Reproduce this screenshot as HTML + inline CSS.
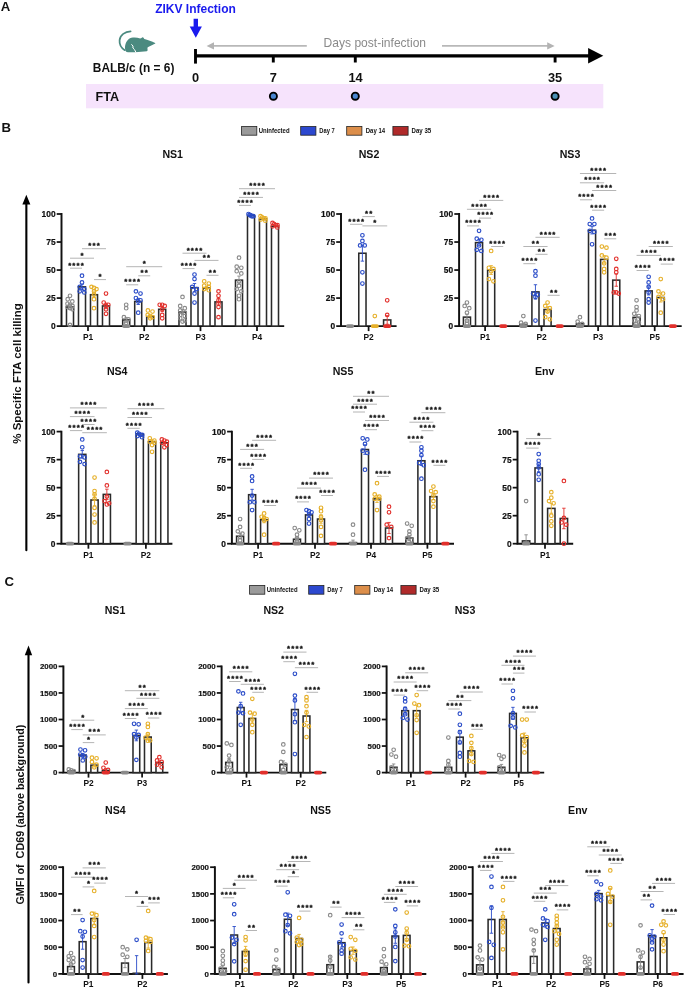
<!DOCTYPE html>
<html><head><meta charset="utf-8"><title>Figure</title>
<style>
html,body{margin:0;padding:0;background:#fff;}
body{width:685px;height:988px;overflow:hidden;font-family:"Liberation Sans", sans-serif;}
</style></head><body>
<svg width="685" height="988" viewBox="0 0 685 988" style="display:block;will-change:transform"><g font-family='"Liberation Sans", sans-serif'><text x="0.70" y="10.60" font-size="13.2" font-weight="bold" text-anchor="start" fill="#111" >A</text><rect x="86" y="84" width="517.3" height="24.3" fill="#f6e3fc"/><text x="95.60" y="100.80" font-size="12.6" font-weight="bold" text-anchor="start" fill="#111" >FTA</text><text x="195.50" y="13.40" font-size="12.0" font-weight="bold" text-anchor="middle" fill="#1a1aee" >ZIKV Infection</text><path d="M193.6,18.8H198.0V26.4H201.9L195.8,37.8L189.7,26.4H193.6Z" fill="#1a1aee"/><path d="M130.6,31.4C125,31.6 120.2,35 119.6,40.2C119.2,44.5 121.5,48.2 124.8,50.2" stroke="#4b8a80" stroke-width="1.75" fill="none" stroke-linecap="round"/><path d="M125.8,51.3C124.4,48.5 124.6,42.5 128.8,39.0C131.5,37.2 136.5,37.2 140.2,38.6L141.5,38.1C142.0,37.2 143.2,37.0 143.7,38.0L144.3,39.0C147.5,40.0 152.0,41.5 155.1,42.9L155.4,43.6C153.5,44.7 150.3,46.0 147.7,47.3C147.1,48.5 147.8,49.8 147.6,50.4L146.8,51.3C143.3,51.7 139,52 135.4,52.3C132,52.3 128,52.2 126.6,52.0Z" fill="#4b8a80"/><path d="M131.4,44.3L133.0,46.1L132.9,48.0L134.5,49.6L136.2,52.8" stroke="#fff" stroke-width="1.0" fill="none"/><text x="92.80" y="72.20" font-size="11.9" font-weight="bold" text-anchor="start" fill="#111" >BALB/c (n = 6)</text><path d="M195.4,55.8H590" stroke="#000" stroke-width="3.2"/><path d="M588.1,48.0L603.3,55.7L588.1,63.5Z" fill="#000"/><path d="M195.5,49.0V63.6" stroke="#000" stroke-width="2.9"/><path d="M273.3,55.8V62.5" stroke="#000" stroke-width="2.9"/><path d="M355.3,55.8V62.5" stroke="#000" stroke-width="2.9"/><path d="M555.1,55.8V62.5" stroke="#000" stroke-width="2.9"/><text x="195.50" y="82.30" font-size="12.8" font-weight="bold" text-anchor="middle" fill="#111" >0</text><text x="273.30" y="82.30" font-size="12.8" font-weight="bold" text-anchor="middle" fill="#111" >7</text><text x="355.50" y="82.30" font-size="12.8" font-weight="bold" text-anchor="middle" fill="#111" >14</text><text x="555.10" y="82.30" font-size="12.8" font-weight="bold" text-anchor="middle" fill="#111" >35</text><path d="M306.8,45.9H212" stroke="#b8b8b8" stroke-width="1.7"/><path d="M206.6,45.9L214,42.2L214,49.6Z" fill="#b3b3b3"/><path d="M442,45.9H548" stroke="#b8b8b8" stroke-width="1.7"/><path d="M554.6,45.9L547.2,42.2L547.2,49.6Z" fill="#b3b3b3"/><text x="323.60" y="47.00" font-size="12.05" font-weight="normal" text-anchor="start" fill="#8a8a8a" >Days post-infection</text><circle cx="273.4" cy="96.2" r="3.55" fill="#4a86d0" stroke="#000" stroke-width="1.9"/><circle cx="355.3" cy="96.2" r="3.55" fill="#4a86d0" stroke="#000" stroke-width="1.9"/><circle cx="555.1" cy="96.2" r="3.55" fill="#4a90b4" stroke="#000" stroke-width="1.9"/><text x="1.40" y="132.00" font-size="13.2" font-weight="bold" text-anchor="start" fill="#111" >B</text><text x="4.50" y="585.80" font-size="13.2" font-weight="bold" text-anchor="start" fill="#111" >C</text><rect x="241.60" y="126.50" width="15.2" height="8.7" fill="#9a9a9a" stroke="#222" stroke-width="0.8"/><text x="258.70" y="132.90" font-size="7.2" font-weight="bold" fill="#111" textLength="30.9" lengthAdjust="spacingAndGlyphs">Uninfected</text><rect x="300.70" y="126.50" width="15.2" height="8.7" fill="#2c48cf" stroke="#222" stroke-width="0.8"/><text x="319.30" y="132.90" font-size="7.2" font-weight="bold" fill="#111" textLength="15.4" lengthAdjust="spacingAndGlyphs">Day 7</text><rect x="346.70" y="126.50" width="15.2" height="8.7" fill="#dc8e4a" stroke="#222" stroke-width="0.8"/><text x="365.70" y="132.90" font-size="7.2" font-weight="bold" fill="#111" textLength="19.4" lengthAdjust="spacingAndGlyphs">Day 14</text><rect x="392.90" y="126.50" width="15.2" height="8.7" fill="#b02a2a" stroke="#222" stroke-width="0.8"/><text x="411.50" y="132.90" font-size="7.2" font-weight="bold" fill="#111" textLength="19.7" lengthAdjust="spacingAndGlyphs">Day 35</text><rect x="249.60" y="585.50" width="15.2" height="8.7" fill="#9a9a9a" stroke="#222" stroke-width="0.8"/><text x="266.70" y="591.90" font-size="7.2" font-weight="bold" fill="#111" textLength="30.9" lengthAdjust="spacingAndGlyphs">Uninfected</text><rect x="308.70" y="585.50" width="15.2" height="8.7" fill="#2c48cf" stroke="#222" stroke-width="0.8"/><text x="327.30" y="591.90" font-size="7.2" font-weight="bold" fill="#111" textLength="15.4" lengthAdjust="spacingAndGlyphs">Day 7</text><rect x="354.70" y="585.50" width="15.2" height="8.7" fill="#dc8e4a" stroke="#222" stroke-width="0.8"/><text x="373.70" y="591.90" font-size="7.2" font-weight="bold" fill="#111" textLength="19.4" lengthAdjust="spacingAndGlyphs">Day 14</text><rect x="400.90" y="585.50" width="15.2" height="8.7" fill="#b02a2a" stroke="#222" stroke-width="0.8"/><text x="419.50" y="591.90" font-size="7.2" font-weight="bold" fill="#111" textLength="19.7" lengthAdjust="spacingAndGlyphs">Day 35</text><path d="M26.35,550.2V202.8" stroke="#000" stroke-width="2.1" stroke-linecap="round"/><path d="M22.35,204.60000000000002L26.35,194.8L30.35,204.60000000000002Z" fill="#000"/><text x="21.2" y="373.5" font-size="11.5" font-weight="bold" text-anchor="middle" fill="#111" transform="rotate(-90 21.2 373.5)">% Specific FTA cell killing</text><path d="M28.5,982.4V653.4" stroke="#000" stroke-width="2.1" stroke-linecap="round"/><path d="M24.8,655.1999999999999L28.5,645.4L32.2,655.1999999999999Z" fill="#000"/><text x="24.0" y="814.6" font-size="10.8" font-weight="bold" text-anchor="middle" fill="#111" transform="rotate(-90 24.0 814.6)">GMFI of&#160;&#160;CD69 (above background)</text><path d="M61.50,213.10V326.10H284.20" stroke="#111" stroke-width="1.95" fill="none"/><path d="M56.70,326.10H61.50" stroke="#111" stroke-width="1.75"/><text x="55.60" y="329.03" font-size="8.4" font-weight="bold" text-anchor="end" fill="#111" stroke="#111" stroke-width="0.2">0</text><path d="M56.70,298.08H61.50" stroke="#111" stroke-width="1.75"/><text x="55.60" y="301.01" font-size="8.4" font-weight="bold" text-anchor="end" fill="#111" stroke="#111" stroke-width="0.2">25</text><path d="M56.70,270.05H61.50" stroke="#111" stroke-width="1.75"/><text x="55.60" y="272.98" font-size="8.4" font-weight="bold" text-anchor="end" fill="#111" stroke="#111" stroke-width="0.2">50</text><path d="M56.70,242.03H61.50" stroke="#111" stroke-width="1.75"/><text x="55.60" y="244.96" font-size="8.4" font-weight="bold" text-anchor="end" fill="#111" stroke="#111" stroke-width="0.2">75</text><path d="M56.70,214.00H61.50" stroke="#111" stroke-width="1.75"/><text x="55.60" y="216.93" font-size="8.4" font-weight="bold" text-anchor="end" fill="#111" stroke="#111" stroke-width="0.2">100</text><path d="M88.00,326.10V331.10" stroke="#111" stroke-width="1.75"/><text x="88.00" y="340.30" font-size="8.4" font-weight="bold" text-anchor="middle" fill="#111" >P1</text><path d="M144.20,326.10V331.10" stroke="#111" stroke-width="1.75"/><text x="144.20" y="340.30" font-size="8.4" font-weight="bold" text-anchor="middle" fill="#111" >P2</text><path d="M200.50,326.10V331.10" stroke="#111" stroke-width="1.75"/><text x="200.50" y="340.30" font-size="8.4" font-weight="bold" text-anchor="middle" fill="#111" >P3</text><path d="M257.00,326.10V331.10" stroke="#111" stroke-width="1.75"/><text x="257.00" y="340.30" font-size="8.4" font-weight="bold" text-anchor="middle" fill="#111" >P4</text><rect x="66.49" y="307.04" width="7.02" height="19.06" fill="#fff" stroke="#2a2a2a" stroke-width="1.55"/><rect x="78.49" y="286.87" width="7.02" height="39.24" fill="#fff" stroke="#2a2a2a" stroke-width="1.55"/><rect x="90.49" y="294.71" width="7.02" height="31.39" fill="#fff" stroke="#2a2a2a" stroke-width="1.55"/><rect x="102.49" y="305.92" width="7.02" height="20.18" fill="#fff" stroke="#2a2a2a" stroke-width="1.55"/><path d="M70.00,309.52V304.56M68.30,304.56H71.70M68.30,309.52H71.70" stroke="#8a8a8a" stroke-width="0.9" fill="none"/><circle cx="70.00" cy="295.83" r="1.8" fill="none" stroke="#8a8a8a" stroke-width="1.15"/><circle cx="67.70" cy="299.20" r="1.8" fill="none" stroke="#8a8a8a" stroke-width="1.15"/><circle cx="72.30" cy="301.44" r="1.8" fill="none" stroke="#8a8a8a" stroke-width="1.15"/><circle cx="67.50" cy="303.68" r="1.8" fill="none" stroke="#8a8a8a" stroke-width="1.15"/><circle cx="70.00" cy="304.80" r="1.8" fill="none" stroke="#8a8a8a" stroke-width="1.15"/><circle cx="72.50" cy="305.92" r="1.8" fill="none" stroke="#8a8a8a" stroke-width="1.15"/><circle cx="67.50" cy="307.04" r="1.8" fill="none" stroke="#8a8a8a" stroke-width="1.15"/><circle cx="70.00" cy="308.16" r="1.8" fill="none" stroke="#8a8a8a" stroke-width="1.15"/><circle cx="72.50" cy="309.29" r="1.8" fill="none" stroke="#8a8a8a" stroke-width="1.15"/><circle cx="70.00" cy="324.98" r="1.8" fill="none" stroke="#8a8a8a" stroke-width="1.15"/><path d="M82.00,289.45V284.28M80.30,284.28H83.70M80.30,289.45H83.70" stroke="#2a4cc8" stroke-width="0.9" fill="none"/><circle cx="82.00" cy="275.66" r="1.8" fill="none" stroke="#2a4cc8" stroke-width="1.15"/><circle cx="82.00" cy="282.38" r="1.8" fill="none" stroke="#2a4cc8" stroke-width="1.15"/><circle cx="79.70" cy="286.87" r="1.8" fill="none" stroke="#2a4cc8" stroke-width="1.15"/><circle cx="84.30" cy="289.11" r="1.8" fill="none" stroke="#2a4cc8" stroke-width="1.15"/><circle cx="79.70" cy="291.35" r="1.8" fill="none" stroke="#2a4cc8" stroke-width="1.15"/><circle cx="84.30" cy="292.47" r="1.8" fill="none" stroke="#2a4cc8" stroke-width="1.15"/><path d="M94.00,297.58V291.84M92.30,291.84H95.70M92.30,297.58H95.70" stroke="#e6b02a" stroke-width="0.9" fill="none"/><circle cx="91.50" cy="286.87" r="1.8" fill="none" stroke="#e6b02a" stroke-width="1.15"/><circle cx="94.00" cy="287.99" r="1.8" fill="none" stroke="#e6b02a" stroke-width="1.15"/><circle cx="96.50" cy="289.11" r="1.8" fill="none" stroke="#e6b02a" stroke-width="1.15"/><circle cx="94.00" cy="291.35" r="1.8" fill="none" stroke="#e6b02a" stroke-width="1.15"/><circle cx="94.00" cy="294.71" r="1.8" fill="none" stroke="#e6b02a" stroke-width="1.15"/><circle cx="94.00" cy="299.20" r="1.8" fill="none" stroke="#e6b02a" stroke-width="1.15"/><circle cx="94.00" cy="308.16" r="1.8" fill="none" stroke="#e6b02a" stroke-width="1.15"/><path d="M106.00,308.70V303.14M104.30,303.14H107.70M104.30,308.70H107.70" stroke="#e2302c" stroke-width="0.9" fill="none"/><circle cx="106.00" cy="293.59" r="1.8" fill="none" stroke="#e2302c" stroke-width="1.15"/><circle cx="103.70" cy="302.56" r="1.8" fill="none" stroke="#e2302c" stroke-width="1.15"/><circle cx="108.30" cy="304.80" r="1.8" fill="none" stroke="#e2302c" stroke-width="1.15"/><circle cx="106.00" cy="305.92" r="1.8" fill="none" stroke="#e2302c" stroke-width="1.15"/><circle cx="106.00" cy="309.29" r="1.8" fill="none" stroke="#e2302c" stroke-width="1.15"/><circle cx="106.00" cy="313.77" r="1.8" fill="none" stroke="#e2302c" stroke-width="1.15"/><rect x="122.69" y="319.93" width="7.02" height="6.17" fill="#fff" stroke="#2a2a2a" stroke-width="1.55"/><rect x="134.69" y="301.44" width="7.02" height="24.66" fill="#fff" stroke="#2a2a2a" stroke-width="1.55"/><rect x="146.69" y="316.57" width="7.02" height="9.53" fill="#fff" stroke="#2a2a2a" stroke-width="1.55"/><rect x="158.69" y="309.29" width="7.02" height="16.82" fill="#fff" stroke="#2a2a2a" stroke-width="1.55"/><path d="M126.20,322.43V317.44M124.50,317.44H127.90M124.50,322.43H127.90" stroke="#8a8a8a" stroke-width="0.9" fill="none"/><rect x="122.10" y="324.25" width="8.20" height="3.7" rx="1.85" fill="#8a8a8a"/><circle cx="126.20" cy="304.80" r="1.8" fill="none" stroke="#8a8a8a" stroke-width="1.15"/><circle cx="126.20" cy="308.16" r="1.8" fill="none" stroke="#8a8a8a" stroke-width="1.15"/><circle cx="123.90" cy="317.13" r="1.8" fill="none" stroke="#8a8a8a" stroke-width="1.15"/><circle cx="128.50" cy="319.37" r="1.8" fill="none" stroke="#8a8a8a" stroke-width="1.15"/><circle cx="126.20" cy="322.74" r="1.8" fill="none" stroke="#8a8a8a" stroke-width="1.15"/><path d="M138.20,304.50V298.38M136.50,298.38H139.90M136.50,304.50H139.90" stroke="#2a4cc8" stroke-width="0.9" fill="none"/><circle cx="135.90" cy="291.35" r="1.8" fill="none" stroke="#2a4cc8" stroke-width="1.15"/><circle cx="140.50" cy="293.59" r="1.8" fill="none" stroke="#2a4cc8" stroke-width="1.15"/><circle cx="135.90" cy="298.08" r="1.8" fill="none" stroke="#2a4cc8" stroke-width="1.15"/><circle cx="140.50" cy="300.32" r="1.8" fill="none" stroke="#2a4cc8" stroke-width="1.15"/><circle cx="138.20" cy="301.44" r="1.8" fill="none" stroke="#2a4cc8" stroke-width="1.15"/><circle cx="138.20" cy="312.65" r="1.8" fill="none" stroke="#2a4cc8" stroke-width="1.15"/><path d="M150.20,317.85V315.30M148.50,315.30H151.90M148.50,317.85H151.90" stroke="#e6b02a" stroke-width="0.9" fill="none"/><circle cx="147.90" cy="310.41" r="1.8" fill="none" stroke="#e6b02a" stroke-width="1.15"/><circle cx="152.50" cy="311.53" r="1.8" fill="none" stroke="#e6b02a" stroke-width="1.15"/><circle cx="147.70" cy="314.89" r="1.8" fill="none" stroke="#e6b02a" stroke-width="1.15"/><circle cx="150.20" cy="316.01" r="1.8" fill="none" stroke="#e6b02a" stroke-width="1.15"/><circle cx="152.70" cy="317.13" r="1.8" fill="none" stroke="#e6b02a" stroke-width="1.15"/><circle cx="150.20" cy="318.25" r="1.8" fill="none" stroke="#e6b02a" stroke-width="1.15"/><path d="M162.20,311.61V306.96M160.50,306.96H163.90M160.50,311.61H163.90" stroke="#e2302c" stroke-width="0.9" fill="none"/><circle cx="159.70" cy="304.80" r="1.8" fill="none" stroke="#e2302c" stroke-width="1.15"/><circle cx="162.20" cy="304.80" r="1.8" fill="none" stroke="#e2302c" stroke-width="1.15"/><circle cx="164.70" cy="305.92" r="1.8" fill="none" stroke="#e2302c" stroke-width="1.15"/><circle cx="162.20" cy="309.29" r="1.8" fill="none" stroke="#e2302c" stroke-width="1.15"/><circle cx="162.20" cy="314.89" r="1.8" fill="none" stroke="#e2302c" stroke-width="1.15"/><circle cx="162.20" cy="318.25" r="1.8" fill="none" stroke="#e2302c" stroke-width="1.15"/><rect x="178.99" y="311.98" width="7.02" height="14.12" fill="#fff" stroke="#2a2a2a" stroke-width="1.55"/><rect x="190.99" y="287.65" width="7.02" height="38.45" fill="#fff" stroke="#2a2a2a" stroke-width="1.55"/><rect x="202.99" y="287.99" width="7.02" height="38.11" fill="#fff" stroke="#2a2a2a" stroke-width="1.55"/><rect x="214.99" y="301.89" width="7.02" height="24.21" fill="#fff" stroke="#2a2a2a" stroke-width="1.55"/><path d="M182.50,314.35V309.60M180.80,309.60H184.20M180.80,314.35H184.20" stroke="#8a8a8a" stroke-width="0.9" fill="none"/><circle cx="182.50" cy="296.95" r="1.8" fill="none" stroke="#8a8a8a" stroke-width="1.15"/><circle cx="180.20" cy="305.92" r="1.8" fill="none" stroke="#8a8a8a" stroke-width="1.15"/><circle cx="184.80" cy="308.16" r="1.8" fill="none" stroke="#8a8a8a" stroke-width="1.15"/><circle cx="180.20" cy="310.41" r="1.8" fill="none" stroke="#8a8a8a" stroke-width="1.15"/><circle cx="184.80" cy="312.65" r="1.8" fill="none" stroke="#8a8a8a" stroke-width="1.15"/><circle cx="180.20" cy="314.89" r="1.8" fill="none" stroke="#8a8a8a" stroke-width="1.15"/><circle cx="184.80" cy="316.01" r="1.8" fill="none" stroke="#8a8a8a" stroke-width="1.15"/><circle cx="180.20" cy="318.25" r="1.8" fill="none" stroke="#8a8a8a" stroke-width="1.15"/><circle cx="184.80" cy="320.50" r="1.8" fill="none" stroke="#8a8a8a" stroke-width="1.15"/><circle cx="182.50" cy="321.62" r="1.8" fill="none" stroke="#8a8a8a" stroke-width="1.15"/><path d="M194.50,291.76V283.54M192.80,283.54H196.20M192.80,291.76H196.20" stroke="#2a4cc8" stroke-width="0.9" fill="none"/><circle cx="194.50" cy="274.53" r="1.8" fill="none" stroke="#2a4cc8" stroke-width="1.15"/><circle cx="194.50" cy="279.02" r="1.8" fill="none" stroke="#2a4cc8" stroke-width="1.15"/><circle cx="192.20" cy="286.87" r="1.8" fill="none" stroke="#2a4cc8" stroke-width="1.15"/><circle cx="196.80" cy="289.11" r="1.8" fill="none" stroke="#2a4cc8" stroke-width="1.15"/><circle cx="194.50" cy="293.59" r="1.8" fill="none" stroke="#2a4cc8" stroke-width="1.15"/><circle cx="194.50" cy="302.56" r="1.8" fill="none" stroke="#2a4cc8" stroke-width="1.15"/><path d="M206.50,289.36V286.61M204.80,286.61H208.20M204.80,289.36H208.20" stroke="#e6b02a" stroke-width="0.9" fill="none"/><circle cx="204.20" cy="281.26" r="1.8" fill="none" stroke="#e6b02a" stroke-width="1.15"/><circle cx="208.80" cy="283.50" r="1.8" fill="none" stroke="#e6b02a" stroke-width="1.15"/><circle cx="204.20" cy="285.74" r="1.8" fill="none" stroke="#e6b02a" stroke-width="1.15"/><circle cx="208.80" cy="286.87" r="1.8" fill="none" stroke="#e6b02a" stroke-width="1.15"/><circle cx="204.20" cy="289.11" r="1.8" fill="none" stroke="#e6b02a" stroke-width="1.15"/><circle cx="208.80" cy="290.23" r="1.8" fill="none" stroke="#e6b02a" stroke-width="1.15"/><path d="M218.50,305.58V298.19M216.80,298.19H220.20M216.80,305.58H220.20" stroke="#e2302c" stroke-width="0.9" fill="none"/><circle cx="218.50" cy="291.35" r="1.8" fill="none" stroke="#e2302c" stroke-width="1.15"/><circle cx="218.50" cy="295.83" r="1.8" fill="none" stroke="#e2302c" stroke-width="1.15"/><circle cx="218.50" cy="300.32" r="1.8" fill="none" stroke="#e2302c" stroke-width="1.15"/><circle cx="218.50" cy="303.68" r="1.8" fill="none" stroke="#e2302c" stroke-width="1.15"/><circle cx="218.50" cy="307.04" r="1.8" fill="none" stroke="#e2302c" stroke-width="1.15"/><circle cx="218.50" cy="317.13" r="1.8" fill="none" stroke="#e2302c" stroke-width="1.15"/><rect x="235.49" y="280.14" width="7.02" height="45.96" fill="#fff" stroke="#2a2a2a" stroke-width="1.55"/><rect x="247.49" y="215.57" width="7.02" height="110.53" fill="#fff" stroke="#2a2a2a" stroke-width="1.55"/><rect x="259.49" y="219.04" width="7.02" height="107.06" fill="#fff" stroke="#2a2a2a" stroke-width="1.55"/><rect x="271.49" y="226.33" width="7.02" height="99.77" fill="#fff" stroke="#2a2a2a" stroke-width="1.55"/><path d="M239.00,284.19V276.08M237.30,276.08H240.70M237.30,284.19H240.70" stroke="#8a8a8a" stroke-width="0.9" fill="none"/><circle cx="239.00" cy="257.72" r="1.8" fill="none" stroke="#8a8a8a" stroke-width="1.15"/><circle cx="236.70" cy="266.69" r="1.8" fill="none" stroke="#8a8a8a" stroke-width="1.15"/><circle cx="241.30" cy="267.81" r="1.8" fill="none" stroke="#8a8a8a" stroke-width="1.15"/><circle cx="236.70" cy="271.17" r="1.8" fill="none" stroke="#8a8a8a" stroke-width="1.15"/><circle cx="241.30" cy="273.41" r="1.8" fill="none" stroke="#8a8a8a" stroke-width="1.15"/><circle cx="239.00" cy="281.26" r="1.8" fill="none" stroke="#8a8a8a" stroke-width="1.15"/><circle cx="239.00" cy="285.74" r="1.8" fill="none" stroke="#8a8a8a" stroke-width="1.15"/><circle cx="236.70" cy="289.11" r="1.8" fill="none" stroke="#8a8a8a" stroke-width="1.15"/><circle cx="241.30" cy="291.35" r="1.8" fill="none" stroke="#8a8a8a" stroke-width="1.15"/><circle cx="239.00" cy="295.83" r="1.8" fill="none" stroke="#8a8a8a" stroke-width="1.15"/><circle cx="239.00" cy="299.20" r="1.8" fill="none" stroke="#8a8a8a" stroke-width="1.15"/><circle cx="248.50" cy="214.00" r="1.8" fill="none" stroke="#2a4cc8" stroke-width="1.15"/><circle cx="249.50" cy="215.12" r="1.8" fill="none" stroke="#2a4cc8" stroke-width="1.15"/><circle cx="250.50" cy="215.12" r="1.8" fill="none" stroke="#2a4cc8" stroke-width="1.15"/><circle cx="251.50" cy="216.24" r="1.8" fill="none" stroke="#2a4cc8" stroke-width="1.15"/><circle cx="252.50" cy="216.24" r="1.8" fill="none" stroke="#2a4cc8" stroke-width="1.15"/><circle cx="253.50" cy="216.24" r="1.8" fill="none" stroke="#2a4cc8" stroke-width="1.15"/><circle cx="260.50" cy="216.24" r="1.8" fill="none" stroke="#e6b02a" stroke-width="1.15"/><circle cx="262.17" cy="217.36" r="1.8" fill="none" stroke="#e6b02a" stroke-width="1.15"/><circle cx="263.83" cy="218.48" r="1.8" fill="none" stroke="#e6b02a" stroke-width="1.15"/><circle cx="265.50" cy="218.48" r="1.8" fill="none" stroke="#e6b02a" stroke-width="1.15"/><circle cx="260.70" cy="219.61" r="1.8" fill="none" stroke="#e6b02a" stroke-width="1.15"/><circle cx="265.30" cy="220.73" r="1.8" fill="none" stroke="#e6b02a" stroke-width="1.15"/><circle cx="272.50" cy="222.97" r="1.8" fill="none" stroke="#e2302c" stroke-width="1.15"/><circle cx="274.17" cy="224.09" r="1.8" fill="none" stroke="#e2302c" stroke-width="1.15"/><circle cx="275.83" cy="225.21" r="1.8" fill="none" stroke="#e2302c" stroke-width="1.15"/><circle cx="277.50" cy="225.21" r="1.8" fill="none" stroke="#e2302c" stroke-width="1.15"/><circle cx="272.70" cy="226.33" r="1.8" fill="none" stroke="#e2302c" stroke-width="1.15"/><circle cx="277.30" cy="227.45" r="1.8" fill="none" stroke="#e2302c" stroke-width="1.15"/><path d="M70.00,268.20H82.00" stroke="#9c9c9c" stroke-width="0.75"/><text x="76.60" y="267.50" font-size="7.8" font-weight="bold" text-anchor="middle" fill="#111" letter-spacing="1.2" stroke="#111" stroke-width="0.35">****</text><path d="M70.00,258.20H94.00" stroke="#9c9c9c" stroke-width="0.75"/><text x="82.60" y="257.50" font-size="7.8" font-weight="bold" text-anchor="middle" fill="#111" letter-spacing="1.2" stroke="#111" stroke-width="0.35">*</text><path d="M82.00,248.70H106.00" stroke="#9c9c9c" stroke-width="0.75"/><text x="94.60" y="248.00" font-size="7.8" font-weight="bold" text-anchor="middle" fill="#111" letter-spacing="1.2" stroke="#111" stroke-width="0.35">***</text><path d="M94.00,279.60H106.00" stroke="#9c9c9c" stroke-width="0.75"/><text x="100.60" y="278.90" font-size="7.8" font-weight="bold" text-anchor="middle" fill="#111" letter-spacing="1.2" stroke="#111" stroke-width="0.35">*</text><path d="M126.20,284.80H138.20" stroke="#9c9c9c" stroke-width="0.75"/><text x="132.80" y="284.10" font-size="7.8" font-weight="bold" text-anchor="middle" fill="#111" letter-spacing="1.2" stroke="#111" stroke-width="0.35">****</text><path d="M138.20,275.80H150.20" stroke="#9c9c9c" stroke-width="0.75"/><text x="144.80" y="275.10" font-size="7.8" font-weight="bold" text-anchor="middle" fill="#111" letter-spacing="1.2" stroke="#111" stroke-width="0.35">**</text><path d="M126.20,266.70H162.20" stroke="#9c9c9c" stroke-width="0.75"/><text x="144.80" y="266.00" font-size="7.8" font-weight="bold" text-anchor="middle" fill="#111" letter-spacing="1.2" stroke="#111" stroke-width="0.35">*</text><path d="M182.50,268.60H194.50" stroke="#9c9c9c" stroke-width="0.75"/><text x="189.10" y="267.90" font-size="7.8" font-weight="bold" text-anchor="middle" fill="#111" letter-spacing="1.2" stroke="#111" stroke-width="0.35">****</text><path d="M182.50,253.20H206.50" stroke="#9c9c9c" stroke-width="0.75"/><text x="195.10" y="252.50" font-size="7.8" font-weight="bold" text-anchor="middle" fill="#111" letter-spacing="1.2" stroke="#111" stroke-width="0.35">****</text><path d="M194.50,260.40H218.50" stroke="#9c9c9c" stroke-width="0.75"/><text x="207.10" y="259.70" font-size="7.8" font-weight="bold" text-anchor="middle" fill="#111" letter-spacing="1.2" stroke="#111" stroke-width="0.35">**</text><path d="M206.50,275.30H218.50" stroke="#9c9c9c" stroke-width="0.75"/><text x="213.10" y="274.60" font-size="7.8" font-weight="bold" text-anchor="middle" fill="#111" letter-spacing="1.2" stroke="#111" stroke-width="0.35">**</text><path d="M239.00,205.40H251.00" stroke="#9c9c9c" stroke-width="0.75"/><text x="245.60" y="204.70" font-size="7.8" font-weight="bold" text-anchor="middle" fill="#111" letter-spacing="1.2" stroke="#111" stroke-width="0.35">****</text><path d="M239.00,197.40H263.00" stroke="#9c9c9c" stroke-width="0.75"/><text x="251.60" y="196.70" font-size="7.8" font-weight="bold" text-anchor="middle" fill="#111" letter-spacing="1.2" stroke="#111" stroke-width="0.35">****</text><path d="M239.00,188.70H275.00" stroke="#9c9c9c" stroke-width="0.75"/><text x="257.60" y="188.00" font-size="7.8" font-weight="bold" text-anchor="middle" fill="#111" letter-spacing="1.2" stroke="#111" stroke-width="0.35">****</text><text x="172.70" y="157.60" font-size="10.6" font-weight="bold" text-anchor="middle" fill="#111" >NS1</text><path d="M341.00,213.10V326.10H396.60" stroke="#111" stroke-width="1.95" fill="none"/><path d="M336.20,326.10H341.00" stroke="#111" stroke-width="1.75"/><text x="335.10" y="329.03" font-size="8.4" font-weight="bold" text-anchor="end" fill="#111" stroke="#111" stroke-width="0.2">0</text><path d="M336.20,298.08H341.00" stroke="#111" stroke-width="1.75"/><text x="335.10" y="301.01" font-size="8.4" font-weight="bold" text-anchor="end" fill="#111" stroke="#111" stroke-width="0.2">25</text><path d="M336.20,270.05H341.00" stroke="#111" stroke-width="1.75"/><text x="335.10" y="272.98" font-size="8.4" font-weight="bold" text-anchor="end" fill="#111" stroke="#111" stroke-width="0.2">50</text><path d="M336.20,242.03H341.00" stroke="#111" stroke-width="1.75"/><text x="335.10" y="244.96" font-size="8.4" font-weight="bold" text-anchor="end" fill="#111" stroke="#111" stroke-width="0.2">75</text><path d="M336.20,214.00H341.00" stroke="#111" stroke-width="1.75"/><text x="335.10" y="216.93" font-size="8.4" font-weight="bold" text-anchor="end" fill="#111" stroke="#111" stroke-width="0.2">100</text><path d="M368.60,326.10V331.10" stroke="#111" stroke-width="1.75"/><text x="368.60" y="340.30" font-size="8.4" font-weight="bold" text-anchor="middle" fill="#111" >P2</text><rect x="358.77" y="253.24" width="7.25" height="72.87" fill="#fff" stroke="#2a2a2a" stroke-width="1.55"/><rect x="383.57" y="319.93" width="7.25" height="6.17" fill="#fff" stroke="#2a2a2a" stroke-width="1.55"/><rect x="345.90" y="324.25" width="8.20" height="3.7" rx="1.85" fill="#8a8a8a"/><path d="M362.40,261.14V245.33M360.70,245.33H364.10M360.70,261.14H364.10" stroke="#2a4cc8" stroke-width="0.9" fill="none"/><circle cx="362.40" cy="235.30" r="1.8" fill="none" stroke="#2a4cc8" stroke-width="1.15"/><circle cx="362.40" cy="240.90" r="1.8" fill="none" stroke="#2a4cc8" stroke-width="1.15"/><circle cx="360.10" cy="245.39" r="1.8" fill="none" stroke="#2a4cc8" stroke-width="1.15"/><circle cx="364.70" cy="245.39" r="1.8" fill="none" stroke="#2a4cc8" stroke-width="1.15"/><circle cx="362.40" cy="272.29" r="1.8" fill="none" stroke="#2a4cc8" stroke-width="1.15"/><circle cx="362.40" cy="283.50" r="1.8" fill="none" stroke="#2a4cc8" stroke-width="1.15"/><rect x="370.70" y="324.25" width="8.20" height="3.7" rx="1.85" fill="#e6b02a"/><circle cx="374.80" cy="316.01" r="1.8" fill="none" stroke="#e6b02a" stroke-width="1.15"/><path d="M387.20,324.26V315.60M385.50,315.60H388.90M385.50,324.26H388.90" stroke="#e2302c" stroke-width="0.9" fill="none"/><rect x="383.10" y="324.25" width="8.20" height="3.7" rx="1.85" fill="#e2302c"/><circle cx="387.20" cy="300.32" r="1.8" fill="none" stroke="#e2302c" stroke-width="1.15"/><circle cx="387.20" cy="314.89" r="1.8" fill="none" stroke="#e2302c" stroke-width="1.15"/><path d="M350.00,224.30H362.40" stroke="#9c9c9c" stroke-width="0.75"/><text x="356.80" y="223.60" font-size="7.8" font-weight="bold" text-anchor="middle" fill="#111" letter-spacing="1.2" stroke="#111" stroke-width="0.35">****</text><path d="M362.40,216.60H374.80" stroke="#9c9c9c" stroke-width="0.75"/><text x="369.20" y="215.90" font-size="7.8" font-weight="bold" text-anchor="middle" fill="#111" letter-spacing="1.2" stroke="#111" stroke-width="0.35">**</text><path d="M362.40,225.90H387.20" stroke="#9c9c9c" stroke-width="0.75"/><text x="375.40" y="225.20" font-size="7.8" font-weight="bold" text-anchor="middle" fill="#111" letter-spacing="1.2" stroke="#111" stroke-width="0.35">*</text><text x="369.00" y="157.60" font-size="10.6" font-weight="bold" text-anchor="middle" fill="#111" >NS2</text><path d="M459.10,213.10V326.10H681.70" stroke="#111" stroke-width="1.95" fill="none"/><path d="M454.30,326.10H459.10" stroke="#111" stroke-width="1.75"/><text x="453.20" y="329.03" font-size="8.4" font-weight="bold" text-anchor="end" fill="#111" stroke="#111" stroke-width="0.2">0</text><path d="M454.30,298.08H459.10" stroke="#111" stroke-width="1.75"/><text x="453.20" y="301.01" font-size="8.4" font-weight="bold" text-anchor="end" fill="#111" stroke="#111" stroke-width="0.2">25</text><path d="M454.30,270.05H459.10" stroke="#111" stroke-width="1.75"/><text x="453.20" y="272.98" font-size="8.4" font-weight="bold" text-anchor="end" fill="#111" stroke="#111" stroke-width="0.2">50</text><path d="M454.30,242.03H459.10" stroke="#111" stroke-width="1.75"/><text x="453.20" y="244.96" font-size="8.4" font-weight="bold" text-anchor="end" fill="#111" stroke="#111" stroke-width="0.2">75</text><path d="M454.30,214.00H459.10" stroke="#111" stroke-width="1.75"/><text x="453.20" y="216.93" font-size="8.4" font-weight="bold" text-anchor="end" fill="#111" stroke="#111" stroke-width="0.2">100</text><path d="M485.10,326.10V331.10" stroke="#111" stroke-width="1.75"/><text x="485.10" y="340.30" font-size="8.4" font-weight="bold" text-anchor="middle" fill="#111" >P1</text><path d="M541.50,326.10V331.10" stroke="#111" stroke-width="1.75"/><text x="541.50" y="340.30" font-size="8.4" font-weight="bold" text-anchor="middle" fill="#111" >P2</text><path d="M598.10,326.10V331.10" stroke="#111" stroke-width="1.75"/><text x="598.10" y="340.30" font-size="8.4" font-weight="bold" text-anchor="middle" fill="#111" >P3</text><path d="M654.70,326.10V331.10" stroke="#111" stroke-width="1.75"/><text x="654.70" y="340.30" font-size="8.4" font-weight="bold" text-anchor="middle" fill="#111" >P5</text><rect x="463.41" y="317.13" width="7.08" height="8.97" fill="#fff" stroke="#2a2a2a" stroke-width="1.55"/><rect x="475.51" y="242.59" width="7.08" height="83.51" fill="#fff" stroke="#2a2a2a" stroke-width="1.55"/><rect x="487.61" y="270.05" width="7.08" height="56.05" fill="#fff" stroke="#2a2a2a" stroke-width="1.55"/><path d="M466.95,320.14V314.13M465.25,314.13H468.65M465.25,320.14H468.65" stroke="#8a8a8a" stroke-width="0.9" fill="none"/><rect x="462.85" y="324.25" width="8.20" height="3.7" rx="1.85" fill="#8a8a8a"/><circle cx="466.95" cy="302.56" r="1.8" fill="none" stroke="#8a8a8a" stroke-width="1.15"/><circle cx="464.65" cy="305.92" r="1.8" fill="none" stroke="#8a8a8a" stroke-width="1.15"/><circle cx="469.25" cy="308.16" r="1.8" fill="none" stroke="#8a8a8a" stroke-width="1.15"/><circle cx="466.95" cy="312.65" r="1.8" fill="none" stroke="#8a8a8a" stroke-width="1.15"/><circle cx="466.95" cy="320.50" r="1.8" fill="none" stroke="#8a8a8a" stroke-width="1.15"/><circle cx="466.95" cy="323.86" r="1.8" fill="none" stroke="#8a8a8a" stroke-width="1.15"/><path d="M479.05,245.71V239.46M477.35,239.46H480.75M477.35,245.71H480.75" stroke="#2a4cc8" stroke-width="0.9" fill="none"/><circle cx="479.05" cy="230.81" r="1.8" fill="none" stroke="#2a4cc8" stroke-width="1.15"/><circle cx="476.75" cy="238.66" r="1.8" fill="none" stroke="#2a4cc8" stroke-width="1.15"/><circle cx="481.35" cy="239.78" r="1.8" fill="none" stroke="#2a4cc8" stroke-width="1.15"/><circle cx="479.05" cy="245.39" r="1.8" fill="none" stroke="#2a4cc8" stroke-width="1.15"/><circle cx="476.75" cy="249.87" r="1.8" fill="none" stroke="#2a4cc8" stroke-width="1.15"/><circle cx="481.35" cy="250.99" r="1.8" fill="none" stroke="#2a4cc8" stroke-width="1.15"/><path d="M491.15,274.43V265.67M489.45,265.67H492.85M489.45,274.43H492.85" stroke="#e6b02a" stroke-width="0.9" fill="none"/><circle cx="491.15" cy="250.99" r="1.8" fill="none" stroke="#e6b02a" stroke-width="1.15"/><circle cx="488.85" cy="267.81" r="1.8" fill="none" stroke="#e6b02a" stroke-width="1.15"/><circle cx="493.45" cy="268.93" r="1.8" fill="none" stroke="#e6b02a" stroke-width="1.15"/><circle cx="491.15" cy="271.17" r="1.8" fill="none" stroke="#e6b02a" stroke-width="1.15"/><circle cx="488.85" cy="279.02" r="1.8" fill="none" stroke="#e6b02a" stroke-width="1.15"/><circle cx="493.45" cy="281.26" r="1.8" fill="none" stroke="#e6b02a" stroke-width="1.15"/><rect x="499.15" y="324.25" width="8.20" height="3.7" rx="1.85" fill="#e2302c"/><rect x="519.81" y="324.42" width="7.08" height="1.68" fill="#fff" stroke="#2a2a2a" stroke-width="1.55"/><rect x="531.91" y="291.91" width="7.08" height="34.19" fill="#fff" stroke="#2a2a2a" stroke-width="1.55"/><rect x="544.01" y="309.51" width="7.08" height="16.59" fill="#fff" stroke="#2a2a2a" stroke-width="1.55"/><path d="M523.35,325.64V323.19M521.65,323.19H525.05M521.65,325.64H525.05" stroke="#8a8a8a" stroke-width="0.9" fill="none"/><rect x="519.25" y="324.25" width="8.20" height="3.7" rx="1.85" fill="#8a8a8a"/><circle cx="523.35" cy="316.01" r="1.8" fill="none" stroke="#8a8a8a" stroke-width="1.15"/><circle cx="521.05" cy="322.74" r="1.8" fill="none" stroke="#8a8a8a" stroke-width="1.15"/><circle cx="525.65" cy="323.86" r="1.8" fill="none" stroke="#8a8a8a" stroke-width="1.15"/><path d="M535.45,299.09V284.73M533.75,284.73H537.15M533.75,299.09H537.15" stroke="#2a4cc8" stroke-width="0.9" fill="none"/><circle cx="535.45" cy="271.17" r="1.8" fill="none" stroke="#2a4cc8" stroke-width="1.15"/><circle cx="535.45" cy="275.66" r="1.8" fill="none" stroke="#2a4cc8" stroke-width="1.15"/><circle cx="533.15" cy="293.59" r="1.8" fill="none" stroke="#2a4cc8" stroke-width="1.15"/><circle cx="537.75" cy="294.71" r="1.8" fill="none" stroke="#2a4cc8" stroke-width="1.15"/><circle cx="535.45" cy="296.95" r="1.8" fill="none" stroke="#2a4cc8" stroke-width="1.15"/><circle cx="535.45" cy="320.50" r="1.8" fill="none" stroke="#2a4cc8" stroke-width="1.15"/><path d="M547.55,312.17V306.85M545.85,306.85H549.25M545.85,312.17H549.25" stroke="#e6b02a" stroke-width="0.9" fill="none"/><circle cx="547.55" cy="302.56" r="1.8" fill="none" stroke="#e6b02a" stroke-width="1.15"/><circle cx="545.25" cy="305.92" r="1.8" fill="none" stroke="#e6b02a" stroke-width="1.15"/><circle cx="549.85" cy="308.16" r="1.8" fill="none" stroke="#e6b02a" stroke-width="1.15"/><circle cx="547.55" cy="311.53" r="1.8" fill="none" stroke="#e6b02a" stroke-width="1.15"/><circle cx="545.25" cy="317.13" r="1.8" fill="none" stroke="#e6b02a" stroke-width="1.15"/><circle cx="549.85" cy="319.37" r="1.8" fill="none" stroke="#e6b02a" stroke-width="1.15"/><rect x="555.55" y="324.25" width="8.20" height="3.7" rx="1.85" fill="#e2302c"/><rect x="576.41" y="323.86" width="7.08" height="2.24" fill="#fff" stroke="#2a2a2a" stroke-width="1.55"/><rect x="588.51" y="230.25" width="7.08" height="95.85" fill="#fff" stroke="#2a2a2a" stroke-width="1.55"/><rect x="600.61" y="259.40" width="7.08" height="66.70" fill="#fff" stroke="#2a2a2a" stroke-width="1.55"/><rect x="612.71" y="280.14" width="7.08" height="45.96" fill="#fff" stroke="#2a2a2a" stroke-width="1.55"/><path d="M579.95,324.99V322.73M578.25,322.73H581.65M578.25,324.99H581.65" stroke="#8a8a8a" stroke-width="0.9" fill="none"/><rect x="575.85" y="324.25" width="8.20" height="3.7" rx="1.85" fill="#8a8a8a"/><circle cx="579.95" cy="317.13" r="1.8" fill="none" stroke="#8a8a8a" stroke-width="1.15"/><circle cx="577.65" cy="321.62" r="1.8" fill="none" stroke="#8a8a8a" stroke-width="1.15"/><circle cx="582.25" cy="323.86" r="1.8" fill="none" stroke="#8a8a8a" stroke-width="1.15"/><path d="M592.05,233.92V226.59M590.35,226.59H593.75M590.35,233.92H593.75" stroke="#2a4cc8" stroke-width="0.9" fill="none"/><circle cx="592.05" cy="218.48" r="1.8" fill="none" stroke="#2a4cc8" stroke-width="1.15"/><circle cx="589.75" cy="224.09" r="1.8" fill="none" stroke="#2a4cc8" stroke-width="1.15"/><circle cx="594.35" cy="224.09" r="1.8" fill="none" stroke="#2a4cc8" stroke-width="1.15"/><circle cx="589.75" cy="230.81" r="1.8" fill="none" stroke="#2a4cc8" stroke-width="1.15"/><circle cx="594.35" cy="231.94" r="1.8" fill="none" stroke="#2a4cc8" stroke-width="1.15"/><circle cx="592.05" cy="244.27" r="1.8" fill="none" stroke="#2a4cc8" stroke-width="1.15"/><path d="M604.15,263.16V255.64M602.45,255.64H605.85M602.45,263.16H605.85" stroke="#e6b02a" stroke-width="0.9" fill="none"/><circle cx="601.85" cy="246.51" r="1.8" fill="none" stroke="#e6b02a" stroke-width="1.15"/><circle cx="606.45" cy="247.63" r="1.8" fill="none" stroke="#e6b02a" stroke-width="1.15"/><circle cx="601.85" cy="255.48" r="1.8" fill="none" stroke="#e6b02a" stroke-width="1.15"/><circle cx="606.45" cy="257.72" r="1.8" fill="none" stroke="#e6b02a" stroke-width="1.15"/><circle cx="604.15" cy="263.32" r="1.8" fill="none" stroke="#e6b02a" stroke-width="1.15"/><circle cx="604.15" cy="268.93" r="1.8" fill="none" stroke="#e6b02a" stroke-width="1.15"/><circle cx="604.15" cy="272.29" r="1.8" fill="none" stroke="#e6b02a" stroke-width="1.15"/><path d="M616.25,286.26V274.01M614.55,274.01H617.95M614.55,286.26H617.95" stroke="#e2302c" stroke-width="0.9" fill="none"/><circle cx="616.25" cy="258.84" r="1.8" fill="none" stroke="#e2302c" stroke-width="1.15"/><circle cx="616.25" cy="268.93" r="1.8" fill="none" stroke="#e2302c" stroke-width="1.15"/><circle cx="616.25" cy="272.29" r="1.8" fill="none" stroke="#e2302c" stroke-width="1.15"/><circle cx="613.75" cy="292.47" r="1.8" fill="none" stroke="#e2302c" stroke-width="1.15"/><circle cx="616.25" cy="292.47" r="1.8" fill="none" stroke="#e2302c" stroke-width="1.15"/><circle cx="618.75" cy="293.59" r="1.8" fill="none" stroke="#e2302c" stroke-width="1.15"/><rect x="633.01" y="317.36" width="7.08" height="8.74" fill="#fff" stroke="#2a2a2a" stroke-width="1.55"/><rect x="645.11" y="290.90" width="7.08" height="35.20" fill="#fff" stroke="#2a2a2a" stroke-width="1.55"/><rect x="657.21" y="297.51" width="7.08" height="28.59" fill="#fff" stroke="#2a2a2a" stroke-width="1.55"/><path d="M636.55,320.08V314.63M634.85,314.63H638.25M634.85,320.08H638.25" stroke="#8a8a8a" stroke-width="0.9" fill="none"/><rect x="632.45" y="324.25" width="8.20" height="3.7" rx="1.85" fill="#8a8a8a"/><circle cx="636.55" cy="300.32" r="1.8" fill="none" stroke="#8a8a8a" stroke-width="1.15"/><circle cx="636.55" cy="307.04" r="1.8" fill="none" stroke="#8a8a8a" stroke-width="1.15"/><circle cx="636.55" cy="310.41" r="1.8" fill="none" stroke="#8a8a8a" stroke-width="1.15"/><circle cx="634.25" cy="313.77" r="1.8" fill="none" stroke="#8a8a8a" stroke-width="1.15"/><circle cx="638.85" cy="316.01" r="1.8" fill="none" stroke="#8a8a8a" stroke-width="1.15"/><circle cx="634.25" cy="320.50" r="1.8" fill="none" stroke="#8a8a8a" stroke-width="1.15"/><circle cx="638.85" cy="322.74" r="1.8" fill="none" stroke="#8a8a8a" stroke-width="1.15"/><circle cx="636.55" cy="323.86" r="1.8" fill="none" stroke="#8a8a8a" stroke-width="1.15"/><path d="M648.65,294.95V286.85M646.95,286.85H650.35M646.95,294.95H650.35" stroke="#2a4cc8" stroke-width="0.9" fill="none"/><circle cx="648.65" cy="276.78" r="1.8" fill="none" stroke="#2a4cc8" stroke-width="1.15"/><circle cx="648.65" cy="282.38" r="1.8" fill="none" stroke="#2a4cc8" stroke-width="1.15"/><circle cx="648.65" cy="286.87" r="1.8" fill="none" stroke="#2a4cc8" stroke-width="1.15"/><circle cx="648.65" cy="292.47" r="1.8" fill="none" stroke="#2a4cc8" stroke-width="1.15"/><circle cx="648.65" cy="299.20" r="1.8" fill="none" stroke="#2a4cc8" stroke-width="1.15"/><circle cx="648.65" cy="302.56" r="1.8" fill="none" stroke="#2a4cc8" stroke-width="1.15"/><path d="M660.75,302.00V293.03M659.05,293.03H662.45M659.05,302.00H662.45" stroke="#e6b02a" stroke-width="0.9" fill="none"/><circle cx="660.75" cy="279.02" r="1.8" fill="none" stroke="#e6b02a" stroke-width="1.15"/><circle cx="658.45" cy="291.35" r="1.8" fill="none" stroke="#e6b02a" stroke-width="1.15"/><circle cx="663.05" cy="293.59" r="1.8" fill="none" stroke="#e6b02a" stroke-width="1.15"/><circle cx="658.45" cy="296.95" r="1.8" fill="none" stroke="#e6b02a" stroke-width="1.15"/><circle cx="663.05" cy="299.20" r="1.8" fill="none" stroke="#e6b02a" stroke-width="1.15"/><circle cx="660.75" cy="312.65" r="1.8" fill="none" stroke="#e6b02a" stroke-width="1.15"/><rect x="668.75" y="324.25" width="8.20" height="3.7" rx="1.85" fill="#e2302c"/><path d="M466.95,225.90H479.05" stroke="#9c9c9c" stroke-width="0.75"/><text x="473.60" y="225.20" font-size="7.8" font-weight="bold" text-anchor="middle" fill="#111" letter-spacing="1.2" stroke="#111" stroke-width="0.35">****</text><path d="M479.05,218.10H491.15" stroke="#9c9c9c" stroke-width="0.75"/><text x="485.70" y="217.40" font-size="7.8" font-weight="bold" text-anchor="middle" fill="#111" letter-spacing="1.2" stroke="#111" stroke-width="0.35">****</text><path d="M466.95,209.30H491.15" stroke="#9c9c9c" stroke-width="0.75"/><text x="479.65" y="208.60" font-size="7.8" font-weight="bold" text-anchor="middle" fill="#111" letter-spacing="1.2" stroke="#111" stroke-width="0.35">****</text><path d="M479.05,200.40H503.25" stroke="#9c9c9c" stroke-width="0.75"/><text x="491.75" y="199.70" font-size="7.8" font-weight="bold" text-anchor="middle" fill="#111" letter-spacing="1.2" stroke="#111" stroke-width="0.35">****</text><path d="M491.15,246.50H503.25" stroke="#9c9c9c" stroke-width="0.75"/><text x="497.80" y="245.80" font-size="7.8" font-weight="bold" text-anchor="middle" fill="#111" letter-spacing="1.2" stroke="#111" stroke-width="0.35">****</text><path d="M523.35,263.70H535.45" stroke="#9c9c9c" stroke-width="0.75"/><text x="530.00" y="263.00" font-size="7.8" font-weight="bold" text-anchor="middle" fill="#111" letter-spacing="1.2" stroke="#111" stroke-width="0.35">****</text><path d="M523.35,246.50H547.55" stroke="#9c9c9c" stroke-width="0.75"/><text x="536.05" y="245.80" font-size="7.8" font-weight="bold" text-anchor="middle" fill="#111" letter-spacing="1.2" stroke="#111" stroke-width="0.35">**</text><path d="M535.45,254.30H547.55" stroke="#9c9c9c" stroke-width="0.75"/><text x="542.10" y="253.60" font-size="7.8" font-weight="bold" text-anchor="middle" fill="#111" letter-spacing="1.2" stroke="#111" stroke-width="0.35">**</text><path d="M535.45,237.30H559.65" stroke="#9c9c9c" stroke-width="0.75"/><text x="548.15" y="236.60" font-size="7.8" font-weight="bold" text-anchor="middle" fill="#111" letter-spacing="1.2" stroke="#111" stroke-width="0.35">****</text><path d="M547.55,295.30H559.65" stroke="#9c9c9c" stroke-width="0.75"/><text x="554.20" y="294.60" font-size="7.8" font-weight="bold" text-anchor="middle" fill="#111" letter-spacing="1.2" stroke="#111" stroke-width="0.35">**</text><path d="M579.95,173.50H616.25" stroke="#9c9c9c" stroke-width="0.75"/><text x="598.70" y="172.80" font-size="7.8" font-weight="bold" text-anchor="middle" fill="#111" letter-spacing="1.2" stroke="#111" stroke-width="0.35">****</text><path d="M579.95,182.80H604.15" stroke="#9c9c9c" stroke-width="0.75"/><text x="592.65" y="182.10" font-size="7.8" font-weight="bold" text-anchor="middle" fill="#111" letter-spacing="1.2" stroke="#111" stroke-width="0.35">****</text><path d="M592.05,190.50H616.25" stroke="#9c9c9c" stroke-width="0.75"/><text x="604.75" y="189.80" font-size="7.8" font-weight="bold" text-anchor="middle" fill="#111" letter-spacing="1.2" stroke="#111" stroke-width="0.35">****</text><path d="M579.95,199.80H592.05" stroke="#9c9c9c" stroke-width="0.75"/><text x="586.60" y="199.10" font-size="7.8" font-weight="bold" text-anchor="middle" fill="#111" letter-spacing="1.2" stroke="#111" stroke-width="0.35">****</text><path d="M592.05,210.20H604.15" stroke="#9c9c9c" stroke-width="0.75"/><text x="598.70" y="209.50" font-size="7.8" font-weight="bold" text-anchor="middle" fill="#111" letter-spacing="1.2" stroke="#111" stroke-width="0.35">****</text><path d="M604.15,238.80H616.25" stroke="#9c9c9c" stroke-width="0.75"/><text x="610.80" y="238.10" font-size="7.8" font-weight="bold" text-anchor="middle" fill="#111" letter-spacing="1.2" stroke="#111" stroke-width="0.35">***</text><path d="M648.65,246.50H672.85" stroke="#9c9c9c" stroke-width="0.75"/><text x="661.35" y="245.80" font-size="7.8" font-weight="bold" text-anchor="middle" fill="#111" letter-spacing="1.2" stroke="#111" stroke-width="0.35">****</text><path d="M636.55,255.40H660.75" stroke="#9c9c9c" stroke-width="0.75"/><text x="649.25" y="254.70" font-size="7.8" font-weight="bold" text-anchor="middle" fill="#111" letter-spacing="1.2" stroke="#111" stroke-width="0.35">****</text><path d="M660.75,264.10H672.85" stroke="#9c9c9c" stroke-width="0.75"/><text x="667.40" y="263.40" font-size="7.8" font-weight="bold" text-anchor="middle" fill="#111" letter-spacing="1.2" stroke="#111" stroke-width="0.35">****</text><path d="M636.55,270.50H648.65" stroke="#9c9c9c" stroke-width="0.75"/><text x="643.20" y="269.80" font-size="7.8" font-weight="bold" text-anchor="middle" fill="#111" letter-spacing="1.2" stroke="#111" stroke-width="0.35">****</text><text x="570.00" y="157.60" font-size="10.6" font-weight="bold" text-anchor="middle" fill="#111" >NS3</text><path d="M61.40,430.70V543.70H172.40" stroke="#111" stroke-width="1.95" fill="none"/><path d="M56.60,543.70H61.40" stroke="#111" stroke-width="1.75"/><text x="55.50" y="546.63" font-size="8.4" font-weight="bold" text-anchor="end" fill="#111" stroke="#111" stroke-width="0.2">0</text><path d="M56.60,515.68H61.40" stroke="#111" stroke-width="1.75"/><text x="55.50" y="518.61" font-size="8.4" font-weight="bold" text-anchor="end" fill="#111" stroke="#111" stroke-width="0.2">25</text><path d="M56.60,487.65H61.40" stroke="#111" stroke-width="1.75"/><text x="55.50" y="490.58" font-size="8.4" font-weight="bold" text-anchor="end" fill="#111" stroke="#111" stroke-width="0.2">50</text><path d="M56.60,459.62H61.40" stroke="#111" stroke-width="1.75"/><text x="55.50" y="462.56" font-size="8.4" font-weight="bold" text-anchor="end" fill="#111" stroke="#111" stroke-width="0.2">75</text><path d="M56.60,431.60H61.40" stroke="#111" stroke-width="1.75"/><text x="55.50" y="434.53" font-size="8.4" font-weight="bold" text-anchor="end" fill="#111" stroke="#111" stroke-width="0.2">100</text><path d="M88.40,543.70V548.70" stroke="#111" stroke-width="1.75"/><text x="88.40" y="557.60" font-size="8.4" font-weight="bold" text-anchor="middle" fill="#111" >P1</text><path d="M145.90,543.70V548.70" stroke="#111" stroke-width="1.75"/><text x="145.90" y="557.60" font-size="8.4" font-weight="bold" text-anchor="middle" fill="#111" >P2</text><rect x="78.65" y="454.36" width="7.20" height="89.34" fill="#fff" stroke="#2a2a2a" stroke-width="1.55"/><rect x="90.95" y="499.98" width="7.20" height="43.72" fill="#fff" stroke="#2a2a2a" stroke-width="1.55"/><rect x="103.25" y="494.38" width="7.20" height="49.32" fill="#fff" stroke="#2a2a2a" stroke-width="1.55"/><rect x="65.85" y="541.85" width="8.20" height="3.7" rx="1.85" fill="#8a8a8a"/><path d="M82.25,458.17V450.54M80.55,450.54H83.95M80.55,458.17H83.95" stroke="#2a4cc8" stroke-width="0.9" fill="none"/><circle cx="82.25" cy="439.45" r="1.8" fill="none" stroke="#2a4cc8" stroke-width="1.15"/><circle cx="82.25" cy="447.29" r="1.8" fill="none" stroke="#2a4cc8" stroke-width="1.15"/><circle cx="79.95" cy="456.26" r="1.8" fill="none" stroke="#2a4cc8" stroke-width="1.15"/><circle cx="84.55" cy="457.38" r="1.8" fill="none" stroke="#2a4cc8" stroke-width="1.15"/><circle cx="79.95" cy="461.87" r="1.8" fill="none" stroke="#2a4cc8" stroke-width="1.15"/><circle cx="84.55" cy="464.11" r="1.8" fill="none" stroke="#2a4cc8" stroke-width="1.15"/><path d="M94.55,505.73V494.24M92.85,494.24H96.25M92.85,505.73H96.25" stroke="#e6b02a" stroke-width="0.9" fill="none"/><circle cx="94.55" cy="477.56" r="1.8" fill="none" stroke="#e6b02a" stroke-width="1.15"/><circle cx="94.55" cy="491.01" r="1.8" fill="none" stroke="#e6b02a" stroke-width="1.15"/><circle cx="94.55" cy="494.38" r="1.8" fill="none" stroke="#e6b02a" stroke-width="1.15"/><circle cx="94.55" cy="498.86" r="1.8" fill="none" stroke="#e6b02a" stroke-width="1.15"/><circle cx="94.55" cy="507.83" r="1.8" fill="none" stroke="#e6b02a" stroke-width="1.15"/><circle cx="94.55" cy="514.55" r="1.8" fill="none" stroke="#e6b02a" stroke-width="1.15"/><circle cx="94.55" cy="522.40" r="1.8" fill="none" stroke="#e6b02a" stroke-width="1.15"/><path d="M106.85,499.58V489.17M105.15,489.17H108.55M105.15,499.58H108.55" stroke="#e2302c" stroke-width="0.9" fill="none"/><circle cx="106.85" cy="471.96" r="1.8" fill="none" stroke="#e2302c" stroke-width="1.15"/><circle cx="106.85" cy="485.41" r="1.8" fill="none" stroke="#e2302c" stroke-width="1.15"/><circle cx="106.85" cy="496.62" r="1.8" fill="none" stroke="#e2302c" stroke-width="1.15"/><circle cx="104.55" cy="501.10" r="1.8" fill="none" stroke="#e2302c" stroke-width="1.15"/><circle cx="109.15" cy="503.34" r="1.8" fill="none" stroke="#e2302c" stroke-width="1.15"/><circle cx="106.85" cy="504.47" r="1.8" fill="none" stroke="#e2302c" stroke-width="1.15"/><rect x="136.15" y="433.84" width="7.20" height="109.86" fill="#fff" stroke="#2a2a2a" stroke-width="1.55"/><rect x="148.45" y="441.69" width="7.20" height="102.01" fill="#fff" stroke="#2a2a2a" stroke-width="1.55"/><rect x="160.75" y="442.81" width="7.20" height="100.89" fill="#fff" stroke="#2a2a2a" stroke-width="1.55"/><rect x="123.35" y="541.85" width="8.20" height="3.7" rx="1.85" fill="#8a8a8a"/><circle cx="137.25" cy="432.72" r="1.8" fill="none" stroke="#2a4cc8" stroke-width="1.15"/><circle cx="138.92" cy="433.84" r="1.8" fill="none" stroke="#2a4cc8" stroke-width="1.15"/><circle cx="140.58" cy="434.96" r="1.8" fill="none" stroke="#2a4cc8" stroke-width="1.15"/><circle cx="142.25" cy="434.96" r="1.8" fill="none" stroke="#2a4cc8" stroke-width="1.15"/><circle cx="137.45" cy="436.08" r="1.8" fill="none" stroke="#2a4cc8" stroke-width="1.15"/><circle cx="142.05" cy="437.21" r="1.8" fill="none" stroke="#2a4cc8" stroke-width="1.15"/><path d="M152.05,443.60V439.77M150.35,439.77H153.75M150.35,443.60H153.75" stroke="#e6b02a" stroke-width="0.9" fill="none"/><circle cx="149.75" cy="438.33" r="1.8" fill="none" stroke="#e6b02a" stroke-width="1.15"/><circle cx="154.35" cy="440.57" r="1.8" fill="none" stroke="#e6b02a" stroke-width="1.15"/><circle cx="149.75" cy="441.69" r="1.8" fill="none" stroke="#e6b02a" stroke-width="1.15"/><circle cx="154.35" cy="442.81" r="1.8" fill="none" stroke="#e6b02a" stroke-width="1.15"/><circle cx="152.05" cy="445.05" r="1.8" fill="none" stroke="#e6b02a" stroke-width="1.15"/><circle cx="152.05" cy="451.78" r="1.8" fill="none" stroke="#e6b02a" stroke-width="1.15"/><path d="M164.35,444.00V441.62M162.65,441.62H166.05M162.65,444.00H166.05" stroke="#e2302c" stroke-width="0.9" fill="none"/><circle cx="161.85" cy="439.45" r="1.8" fill="none" stroke="#e2302c" stroke-width="1.15"/><circle cx="164.35" cy="440.57" r="1.8" fill="none" stroke="#e2302c" stroke-width="1.15"/><circle cx="166.85" cy="441.69" r="1.8" fill="none" stroke="#e2302c" stroke-width="1.15"/><circle cx="162.05" cy="442.81" r="1.8" fill="none" stroke="#e2302c" stroke-width="1.15"/><circle cx="166.65" cy="445.05" r="1.8" fill="none" stroke="#e2302c" stroke-width="1.15"/><circle cx="164.35" cy="447.29" r="1.8" fill="none" stroke="#e2302c" stroke-width="1.15"/><path d="M69.95,430.60H82.25" stroke="#9c9c9c" stroke-width="0.75"/><text x="76.70" y="429.90" font-size="7.8" font-weight="bold" text-anchor="middle" fill="#111" letter-spacing="1.2" stroke="#111" stroke-width="0.35">****</text><path d="M82.25,432.70H106.85" stroke="#9c9c9c" stroke-width="0.75"/><text x="95.15" y="432.00" font-size="7.8" font-weight="bold" text-anchor="middle" fill="#111" letter-spacing="1.2" stroke="#111" stroke-width="0.35">****</text><path d="M82.25,424.50H94.55" stroke="#9c9c9c" stroke-width="0.75"/><text x="89.00" y="423.80" font-size="7.8" font-weight="bold" text-anchor="middle" fill="#111" letter-spacing="1.2" stroke="#111" stroke-width="0.35">****</text><path d="M69.95,416.60H94.55" stroke="#9c9c9c" stroke-width="0.75"/><text x="82.85" y="415.90" font-size="7.8" font-weight="bold" text-anchor="middle" fill="#111" letter-spacing="1.2" stroke="#111" stroke-width="0.35">****</text><path d="M69.95,407.90H106.85" stroke="#9c9c9c" stroke-width="0.75"/><text x="89.00" y="407.20" font-size="7.8" font-weight="bold" text-anchor="middle" fill="#111" letter-spacing="1.2" stroke="#111" stroke-width="0.35">****</text><path d="M127.45,428.30H139.75" stroke="#9c9c9c" stroke-width="0.75"/><text x="134.20" y="427.60" font-size="7.8" font-weight="bold" text-anchor="middle" fill="#111" letter-spacing="1.2" stroke="#111" stroke-width="0.35">****</text><path d="M127.45,417.50H152.05" stroke="#9c9c9c" stroke-width="0.75"/><text x="140.35" y="416.80" font-size="7.8" font-weight="bold" text-anchor="middle" fill="#111" letter-spacing="1.2" stroke="#111" stroke-width="0.35">****</text><path d="M127.45,408.70H164.35" stroke="#9c9c9c" stroke-width="0.75"/><text x="146.50" y="408.00" font-size="7.8" font-weight="bold" text-anchor="middle" fill="#111" letter-spacing="1.2" stroke="#111" stroke-width="0.35">****</text><text x="117.20" y="374.90" font-size="10.6" font-weight="bold" text-anchor="middle" fill="#111" >NS4</text><path d="M231.90,430.70V543.70H454.00" stroke="#111" stroke-width="1.95" fill="none"/><path d="M227.10,543.70H231.90" stroke="#111" stroke-width="1.75"/><text x="226.00" y="546.63" font-size="8.4" font-weight="bold" text-anchor="end" fill="#111" stroke="#111" stroke-width="0.2">0</text><path d="M227.10,515.68H231.90" stroke="#111" stroke-width="1.75"/><text x="226.00" y="518.61" font-size="8.4" font-weight="bold" text-anchor="end" fill="#111" stroke="#111" stroke-width="0.2">25</text><path d="M227.10,487.65H231.90" stroke="#111" stroke-width="1.75"/><text x="226.00" y="490.58" font-size="8.4" font-weight="bold" text-anchor="end" fill="#111" stroke="#111" stroke-width="0.2">50</text><path d="M227.10,459.62H231.90" stroke="#111" stroke-width="1.75"/><text x="226.00" y="462.56" font-size="8.4" font-weight="bold" text-anchor="end" fill="#111" stroke="#111" stroke-width="0.2">75</text><path d="M227.10,431.60H231.90" stroke="#111" stroke-width="1.75"/><text x="226.00" y="434.53" font-size="8.4" font-weight="bold" text-anchor="end" fill="#111" stroke="#111" stroke-width="0.2">100</text><path d="M258.10,543.70V548.70" stroke="#111" stroke-width="1.75"/><text x="258.10" y="557.60" font-size="8.4" font-weight="bold" text-anchor="middle" fill="#111" >P1</text><path d="M315.00,543.70V548.70" stroke="#111" stroke-width="1.75"/><text x="315.00" y="557.60" font-size="8.4" font-weight="bold" text-anchor="middle" fill="#111" >P2</text><path d="M371.00,543.70V548.70" stroke="#111" stroke-width="1.75"/><text x="371.00" y="557.60" font-size="8.4" font-weight="bold" text-anchor="middle" fill="#111" >P4</text><path d="M427.40,543.70V548.70" stroke="#111" stroke-width="1.75"/><text x="427.40" y="557.60" font-size="8.4" font-weight="bold" text-anchor="middle" fill="#111" >P5</text><rect x="236.59" y="536.19" width="7.02" height="7.51" fill="#fff" stroke="#2a2a2a" stroke-width="1.55"/><rect x="248.59" y="494.71" width="7.02" height="48.99" fill="#fff" stroke="#2a2a2a" stroke-width="1.55"/><rect x="260.59" y="519.71" width="7.02" height="23.99" fill="#fff" stroke="#2a2a2a" stroke-width="1.55"/><path d="M240.10,538.85V533.53M238.40,533.53H241.80M238.40,538.85H241.80" stroke="#8a8a8a" stroke-width="0.9" fill="none"/><rect x="236.00" y="541.85" width="8.20" height="3.7" rx="1.85" fill="#8a8a8a"/><circle cx="240.10" cy="519.04" r="1.8" fill="none" stroke="#8a8a8a" stroke-width="1.15"/><circle cx="240.10" cy="526.88" r="1.8" fill="none" stroke="#8a8a8a" stroke-width="1.15"/><circle cx="237.80" cy="531.37" r="1.8" fill="none" stroke="#8a8a8a" stroke-width="1.15"/><circle cx="242.40" cy="533.61" r="1.8" fill="none" stroke="#8a8a8a" stroke-width="1.15"/><circle cx="240.10" cy="536.97" r="1.8" fill="none" stroke="#8a8a8a" stroke-width="1.15"/><circle cx="240.10" cy="540.34" r="1.8" fill="none" stroke="#8a8a8a" stroke-width="1.15"/><path d="M252.10,500.11V489.32M250.40,489.32H253.80M250.40,500.11H253.80" stroke="#2a4cc8" stroke-width="0.9" fill="none"/><circle cx="252.10" cy="476.44" r="1.8" fill="none" stroke="#2a4cc8" stroke-width="1.15"/><circle cx="252.10" cy="480.92" r="1.8" fill="none" stroke="#2a4cc8" stroke-width="1.15"/><circle cx="252.10" cy="495.50" r="1.8" fill="none" stroke="#2a4cc8" stroke-width="1.15"/><circle cx="249.80" cy="502.22" r="1.8" fill="none" stroke="#2a4cc8" stroke-width="1.15"/><circle cx="254.40" cy="502.22" r="1.8" fill="none" stroke="#2a4cc8" stroke-width="1.15"/><circle cx="252.10" cy="510.07" r="1.8" fill="none" stroke="#2a4cc8" stroke-width="1.15"/><path d="M264.10,522.74V516.68M262.40,516.68H265.80M262.40,522.74H265.80" stroke="#e6b02a" stroke-width="0.9" fill="none"/><circle cx="264.10" cy="513.43" r="1.8" fill="none" stroke="#e6b02a" stroke-width="1.15"/><circle cx="261.60" cy="516.80" r="1.8" fill="none" stroke="#e6b02a" stroke-width="1.15"/><circle cx="264.10" cy="517.92" r="1.8" fill="none" stroke="#e6b02a" stroke-width="1.15"/><circle cx="266.60" cy="519.04" r="1.8" fill="none" stroke="#e6b02a" stroke-width="1.15"/><circle cx="264.10" cy="520.16" r="1.8" fill="none" stroke="#e6b02a" stroke-width="1.15"/><circle cx="264.10" cy="534.73" r="1.8" fill="none" stroke="#e6b02a" stroke-width="1.15"/><rect x="272.00" y="541.85" width="8.20" height="3.7" rx="1.85" fill="#e2302c"/><rect x="293.49" y="539.22" width="7.02" height="4.48" fill="#fff" stroke="#2a2a2a" stroke-width="1.55"/><rect x="305.49" y="514.89" width="7.02" height="28.81" fill="#fff" stroke="#2a2a2a" stroke-width="1.55"/><rect x="317.49" y="519.04" width="7.02" height="24.66" fill="#fff" stroke="#2a2a2a" stroke-width="1.55"/><path d="M297.00,541.11V537.32M295.30,537.32H298.70M295.30,541.11H298.70" stroke="#8a8a8a" stroke-width="0.9" fill="none"/><rect x="292.90" y="541.85" width="8.20" height="3.7" rx="1.85" fill="#8a8a8a"/><circle cx="294.70" cy="528.01" r="1.8" fill="none" stroke="#8a8a8a" stroke-width="1.15"/><circle cx="299.30" cy="530.25" r="1.8" fill="none" stroke="#8a8a8a" stroke-width="1.15"/><circle cx="297.00" cy="534.73" r="1.8" fill="none" stroke="#8a8a8a" stroke-width="1.15"/><circle cx="297.00" cy="538.10" r="1.8" fill="none" stroke="#8a8a8a" stroke-width="1.15"/><circle cx="297.00" cy="541.46" r="1.8" fill="none" stroke="#8a8a8a" stroke-width="1.15"/><path d="M309.00,517.01V512.77M307.30,512.77H310.70M307.30,517.01H310.70" stroke="#2a4cc8" stroke-width="0.9" fill="none"/><circle cx="306.50" cy="510.07" r="1.8" fill="none" stroke="#2a4cc8" stroke-width="1.15"/><circle cx="309.00" cy="511.19" r="1.8" fill="none" stroke="#2a4cc8" stroke-width="1.15"/><circle cx="311.50" cy="512.31" r="1.8" fill="none" stroke="#2a4cc8" stroke-width="1.15"/><circle cx="309.00" cy="514.55" r="1.8" fill="none" stroke="#2a4cc8" stroke-width="1.15"/><circle cx="309.00" cy="519.04" r="1.8" fill="none" stroke="#2a4cc8" stroke-width="1.15"/><circle cx="309.00" cy="523.52" r="1.8" fill="none" stroke="#2a4cc8" stroke-width="1.15"/><path d="M321.00,523.26V514.82M319.30,514.82H322.70M319.30,523.26H322.70" stroke="#e6b02a" stroke-width="0.9" fill="none"/><circle cx="321.00" cy="507.83" r="1.8" fill="none" stroke="#e6b02a" stroke-width="1.15"/><circle cx="321.00" cy="511.19" r="1.8" fill="none" stroke="#e6b02a" stroke-width="1.15"/><circle cx="321.00" cy="516.80" r="1.8" fill="none" stroke="#e6b02a" stroke-width="1.15"/><circle cx="321.00" cy="520.16" r="1.8" fill="none" stroke="#e6b02a" stroke-width="1.15"/><circle cx="321.00" cy="526.88" r="1.8" fill="none" stroke="#e6b02a" stroke-width="1.15"/><circle cx="321.00" cy="535.85" r="1.8" fill="none" stroke="#e6b02a" stroke-width="1.15"/><rect x="328.90" y="541.85" width="8.20" height="3.7" rx="1.85" fill="#e2302c"/><rect x="349.49" y="542.58" width="7.02" height="1.12" fill="#fff" stroke="#2a2a2a" stroke-width="1.55"/><rect x="361.49" y="449.54" width="7.02" height="94.16" fill="#fff" stroke="#2a2a2a" stroke-width="1.55"/><rect x="373.49" y="498.86" width="7.02" height="44.84" fill="#fff" stroke="#2a2a2a" stroke-width="1.55"/><rect x="385.49" y="528.01" width="7.02" height="15.69" fill="#fff" stroke="#2a2a2a" stroke-width="1.55"/><path d="M353.00,543.70V540.12M351.30,540.12H354.70M351.30,543.70H354.70" stroke="#8a8a8a" stroke-width="0.9" fill="none"/><rect x="348.90" y="541.85" width="8.20" height="3.7" rx="1.85" fill="#8a8a8a"/><circle cx="353.00" cy="524.64" r="1.8" fill="none" stroke="#8a8a8a" stroke-width="1.15"/><circle cx="353.00" cy="534.73" r="1.8" fill="none" stroke="#8a8a8a" stroke-width="1.15"/><path d="M365.00,454.29V444.78M363.30,444.78H366.70M363.30,454.29H366.70" stroke="#2a4cc8" stroke-width="0.9" fill="none"/><circle cx="362.70" cy="438.33" r="1.8" fill="none" stroke="#2a4cc8" stroke-width="1.15"/><circle cx="367.30" cy="439.45" r="1.8" fill="none" stroke="#2a4cc8" stroke-width="1.15"/><circle cx="365.00" cy="443.93" r="1.8" fill="none" stroke="#2a4cc8" stroke-width="1.15"/><circle cx="362.70" cy="450.66" r="1.8" fill="none" stroke="#2a4cc8" stroke-width="1.15"/><circle cx="367.30" cy="452.90" r="1.8" fill="none" stroke="#2a4cc8" stroke-width="1.15"/><circle cx="365.00" cy="469.71" r="1.8" fill="none" stroke="#2a4cc8" stroke-width="1.15"/><path d="M377.00,502.40V495.32M375.30,495.32H378.70M375.30,502.40H378.70" stroke="#e6b02a" stroke-width="0.9" fill="none"/><circle cx="377.00" cy="483.17" r="1.8" fill="none" stroke="#e6b02a" stroke-width="1.15"/><circle cx="374.70" cy="494.38" r="1.8" fill="none" stroke="#e6b02a" stroke-width="1.15"/><circle cx="379.30" cy="496.62" r="1.8" fill="none" stroke="#e6b02a" stroke-width="1.15"/><circle cx="374.70" cy="498.86" r="1.8" fill="none" stroke="#e6b02a" stroke-width="1.15"/><circle cx="379.30" cy="498.86" r="1.8" fill="none" stroke="#e6b02a" stroke-width="1.15"/><circle cx="377.00" cy="510.07" r="1.8" fill="none" stroke="#e6b02a" stroke-width="1.15"/><path d="M389.00,533.56V522.45M387.30,522.45H390.70M387.30,533.56H390.70" stroke="#e2302c" stroke-width="0.9" fill="none"/><circle cx="389.00" cy="506.71" r="1.8" fill="none" stroke="#e2302c" stroke-width="1.15"/><circle cx="389.00" cy="512.31" r="1.8" fill="none" stroke="#e2302c" stroke-width="1.15"/><circle cx="386.70" cy="524.64" r="1.8" fill="none" stroke="#e2302c" stroke-width="1.15"/><circle cx="391.30" cy="526.88" r="1.8" fill="none" stroke="#e2302c" stroke-width="1.15"/><circle cx="389.00" cy="538.10" r="1.8" fill="none" stroke="#e2302c" stroke-width="1.15"/><rect x="405.89" y="538.10" width="7.02" height="5.61" fill="#fff" stroke="#2a2a2a" stroke-width="1.55"/><rect x="417.89" y="460.75" width="7.02" height="82.95" fill="#fff" stroke="#2a2a2a" stroke-width="1.55"/><rect x="429.89" y="496.62" width="7.02" height="47.08" fill="#fff" stroke="#2a2a2a" stroke-width="1.55"/><path d="M409.40,540.50V535.69M407.70,535.69H411.10M407.70,540.50H411.10" stroke="#8a8a8a" stroke-width="0.9" fill="none"/><rect x="405.30" y="541.85" width="8.20" height="3.7" rx="1.85" fill="#8a8a8a"/><circle cx="407.10" cy="523.52" r="1.8" fill="none" stroke="#8a8a8a" stroke-width="1.15"/><circle cx="411.70" cy="525.76" r="1.8" fill="none" stroke="#8a8a8a" stroke-width="1.15"/><circle cx="409.40" cy="531.37" r="1.8" fill="none" stroke="#8a8a8a" stroke-width="1.15"/><circle cx="409.40" cy="534.73" r="1.8" fill="none" stroke="#8a8a8a" stroke-width="1.15"/><circle cx="407.10" cy="538.10" r="1.8" fill="none" stroke="#8a8a8a" stroke-width="1.15"/><circle cx="411.70" cy="540.34" r="1.8" fill="none" stroke="#8a8a8a" stroke-width="1.15"/><path d="M421.40,465.43V456.06M419.70,456.06H423.10M419.70,465.43H423.10" stroke="#2a4cc8" stroke-width="0.9" fill="none"/><circle cx="421.40" cy="447.29" r="1.8" fill="none" stroke="#2a4cc8" stroke-width="1.15"/><circle cx="421.40" cy="450.66" r="1.8" fill="none" stroke="#2a4cc8" stroke-width="1.15"/><circle cx="421.40" cy="455.14" r="1.8" fill="none" stroke="#2a4cc8" stroke-width="1.15"/><circle cx="419.10" cy="462.99" r="1.8" fill="none" stroke="#2a4cc8" stroke-width="1.15"/><circle cx="423.70" cy="465.23" r="1.8" fill="none" stroke="#2a4cc8" stroke-width="1.15"/><circle cx="421.40" cy="478.68" r="1.8" fill="none" stroke="#2a4cc8" stroke-width="1.15"/><path d="M433.40,499.61V493.62M431.70,493.62H435.10M431.70,499.61H435.10" stroke="#e6b02a" stroke-width="0.9" fill="none"/><circle cx="433.40" cy="486.53" r="1.8" fill="none" stroke="#e6b02a" stroke-width="1.15"/><circle cx="431.10" cy="491.01" r="1.8" fill="none" stroke="#e6b02a" stroke-width="1.15"/><circle cx="435.70" cy="492.13" r="1.8" fill="none" stroke="#e6b02a" stroke-width="1.15"/><circle cx="433.40" cy="495.50" r="1.8" fill="none" stroke="#e6b02a" stroke-width="1.15"/><circle cx="433.40" cy="501.10" r="1.8" fill="none" stroke="#e6b02a" stroke-width="1.15"/><circle cx="433.40" cy="506.71" r="1.8" fill="none" stroke="#e6b02a" stroke-width="1.15"/><rect x="441.30" y="541.85" width="8.20" height="3.7" rx="1.85" fill="#e2302c"/><path d="M240.10,468.30H252.10" stroke="#9c9c9c" stroke-width="0.75"/><text x="246.70" y="467.60" font-size="7.8" font-weight="bold" text-anchor="middle" fill="#111" letter-spacing="1.2" stroke="#111" stroke-width="0.35">****</text><path d="M252.10,459.40H264.10" stroke="#9c9c9c" stroke-width="0.75"/><text x="258.70" y="458.70" font-size="7.8" font-weight="bold" text-anchor="middle" fill="#111" letter-spacing="1.2" stroke="#111" stroke-width="0.35">****</text><path d="M240.10,449.40H264.10" stroke="#9c9c9c" stroke-width="0.75"/><text x="252.70" y="448.70" font-size="7.8" font-weight="bold" text-anchor="middle" fill="#111" letter-spacing="1.2" stroke="#111" stroke-width="0.35">***</text><path d="M252.10,440.30H276.10" stroke="#9c9c9c" stroke-width="0.75"/><text x="264.70" y="439.60" font-size="7.8" font-weight="bold" text-anchor="middle" fill="#111" letter-spacing="1.2" stroke="#111" stroke-width="0.35">****</text><path d="M264.10,505.50H276.10" stroke="#9c9c9c" stroke-width="0.75"/><text x="270.70" y="504.80" font-size="7.8" font-weight="bold" text-anchor="middle" fill="#111" letter-spacing="1.2" stroke="#111" stroke-width="0.35">****</text><path d="M297.00,501.90H309.00" stroke="#9c9c9c" stroke-width="0.75"/><text x="303.60" y="501.20" font-size="7.8" font-weight="bold" text-anchor="middle" fill="#111" letter-spacing="1.2" stroke="#111" stroke-width="0.35">****</text><path d="M297.00,488.10H321.00" stroke="#9c9c9c" stroke-width="0.75"/><text x="309.60" y="487.40" font-size="7.8" font-weight="bold" text-anchor="middle" fill="#111" letter-spacing="1.2" stroke="#111" stroke-width="0.35">****</text><path d="M321.00,495.50H333.00" stroke="#9c9c9c" stroke-width="0.75"/><text x="327.60" y="494.80" font-size="7.8" font-weight="bold" text-anchor="middle" fill="#111" letter-spacing="1.2" stroke="#111" stroke-width="0.35">****</text><path d="M309.00,478.10H333.00" stroke="#9c9c9c" stroke-width="0.75"/><text x="321.60" y="477.40" font-size="7.8" font-weight="bold" text-anchor="middle" fill="#111" letter-spacing="1.2" stroke="#111" stroke-width="0.35">****</text><path d="M353.00,396.30H389.00" stroke="#9c9c9c" stroke-width="0.75"/><text x="371.60" y="395.60" font-size="7.8" font-weight="bold" text-anchor="middle" fill="#111" letter-spacing="1.2" stroke="#111" stroke-width="0.35">**</text><path d="M353.00,404.20H377.00" stroke="#9c9c9c" stroke-width="0.75"/><text x="365.60" y="403.50" font-size="7.8" font-weight="bold" text-anchor="middle" fill="#111" letter-spacing="1.2" stroke="#111" stroke-width="0.35">****</text><path d="M353.00,412.00H365.00" stroke="#9c9c9c" stroke-width="0.75"/><text x="359.60" y="411.30" font-size="7.8" font-weight="bold" text-anchor="middle" fill="#111" letter-spacing="1.2" stroke="#111" stroke-width="0.35">****</text><path d="M365.00,420.50H389.00" stroke="#9c9c9c" stroke-width="0.75"/><text x="377.60" y="419.80" font-size="7.8" font-weight="bold" text-anchor="middle" fill="#111" letter-spacing="1.2" stroke="#111" stroke-width="0.35">****</text><path d="M365.00,429.70H377.00" stroke="#9c9c9c" stroke-width="0.75"/><text x="371.60" y="429.00" font-size="7.8" font-weight="bold" text-anchor="middle" fill="#111" letter-spacing="1.2" stroke="#111" stroke-width="0.35">****</text><path d="M377.00,476.40H389.00" stroke="#9c9c9c" stroke-width="0.75"/><text x="383.60" y="475.70" font-size="7.8" font-weight="bold" text-anchor="middle" fill="#111" letter-spacing="1.2" stroke="#111" stroke-width="0.35">****</text><path d="M421.40,412.70H445.40" stroke="#9c9c9c" stroke-width="0.75"/><text x="434.00" y="412.00" font-size="7.8" font-weight="bold" text-anchor="middle" fill="#111" letter-spacing="1.2" stroke="#111" stroke-width="0.35">****</text><path d="M409.40,422.20H433.40" stroke="#9c9c9c" stroke-width="0.75"/><text x="422.00" y="421.50" font-size="7.8" font-weight="bold" text-anchor="middle" fill="#111" letter-spacing="1.2" stroke="#111" stroke-width="0.35">****</text><path d="M421.40,430.70H433.40" stroke="#9c9c9c" stroke-width="0.75"/><text x="428.00" y="430.00" font-size="7.8" font-weight="bold" text-anchor="middle" fill="#111" letter-spacing="1.2" stroke="#111" stroke-width="0.35">****</text><path d="M409.40,442.00H421.40" stroke="#9c9c9c" stroke-width="0.75"/><text x="416.00" y="441.30" font-size="7.8" font-weight="bold" text-anchor="middle" fill="#111" letter-spacing="1.2" stroke="#111" stroke-width="0.35">****</text><path d="M433.40,465.30H445.40" stroke="#9c9c9c" stroke-width="0.75"/><text x="440.00" y="464.60" font-size="7.8" font-weight="bold" text-anchor="middle" fill="#111" letter-spacing="1.2" stroke="#111" stroke-width="0.35">****</text><text x="343.00" y="374.90" font-size="10.6" font-weight="bold" text-anchor="middle" fill="#111" >NS5</text><path d="M517.50,430.70V543.70H573.20" stroke="#111" stroke-width="1.95" fill="none"/><path d="M512.70,543.70H517.50" stroke="#111" stroke-width="1.75"/><text x="511.60" y="546.63" font-size="8.4" font-weight="bold" text-anchor="end" fill="#111" stroke="#111" stroke-width="0.2">0</text><path d="M512.70,515.68H517.50" stroke="#111" stroke-width="1.75"/><text x="511.60" y="518.61" font-size="8.4" font-weight="bold" text-anchor="end" fill="#111" stroke="#111" stroke-width="0.2">25</text><path d="M512.70,487.65H517.50" stroke="#111" stroke-width="1.75"/><text x="511.60" y="490.58" font-size="8.4" font-weight="bold" text-anchor="end" fill="#111" stroke="#111" stroke-width="0.2">50</text><path d="M512.70,459.62H517.50" stroke="#111" stroke-width="1.75"/><text x="511.60" y="462.56" font-size="8.4" font-weight="bold" text-anchor="end" fill="#111" stroke="#111" stroke-width="0.2">75</text><path d="M512.70,431.60H517.50" stroke="#111" stroke-width="1.75"/><text x="511.60" y="434.53" font-size="8.4" font-weight="bold" text-anchor="end" fill="#111" stroke="#111" stroke-width="0.2">100</text><path d="M545.00,543.70V548.70" stroke="#111" stroke-width="1.75"/><text x="545.00" y="557.60" font-size="8.4" font-weight="bold" text-anchor="middle" fill="#111" >P1</text><rect x="522.41" y="540.90" width="7.37" height="2.80" fill="#fff" stroke="#2a2a2a" stroke-width="1.55"/><rect x="535.01" y="467.92" width="7.37" height="75.78" fill="#fff" stroke="#2a2a2a" stroke-width="1.55"/><rect x="547.61" y="508.39" width="7.37" height="35.31" fill="#fff" stroke="#2a2a2a" stroke-width="1.55"/><rect x="560.21" y="518.48" width="7.37" height="25.22" fill="#fff" stroke="#2a2a2a" stroke-width="1.55"/><path d="M526.10,543.70V534.81M524.40,534.81H527.80M524.40,543.70H527.80" stroke="#8a8a8a" stroke-width="0.9" fill="none"/><rect x="522.00" y="541.85" width="8.20" height="3.7" rx="1.85" fill="#8a8a8a"/><circle cx="526.10" cy="501.10" r="1.8" fill="none" stroke="#8a8a8a" stroke-width="1.15"/><path d="M538.70,471.71V464.13M537.00,464.13H540.40M537.00,471.71H540.40" stroke="#2a4cc8" stroke-width="0.9" fill="none"/><circle cx="538.70" cy="454.02" r="1.8" fill="none" stroke="#2a4cc8" stroke-width="1.15"/><circle cx="538.70" cy="460.75" r="1.8" fill="none" stroke="#2a4cc8" stroke-width="1.15"/><circle cx="538.70" cy="464.11" r="1.8" fill="none" stroke="#2a4cc8" stroke-width="1.15"/><circle cx="538.70" cy="467.47" r="1.8" fill="none" stroke="#2a4cc8" stroke-width="1.15"/><circle cx="538.70" cy="474.20" r="1.8" fill="none" stroke="#2a4cc8" stroke-width="1.15"/><circle cx="538.70" cy="479.80" r="1.8" fill="none" stroke="#2a4cc8" stroke-width="1.15"/><path d="M551.30,513.21V503.57M549.60,503.57H553.00M549.60,513.21H553.00" stroke="#e6b02a" stroke-width="0.9" fill="none"/><circle cx="551.30" cy="492.13" r="1.8" fill="none" stroke="#e6b02a" stroke-width="1.15"/><circle cx="551.30" cy="497.74" r="1.8" fill="none" stroke="#e6b02a" stroke-width="1.15"/><circle cx="549.00" cy="501.10" r="1.8" fill="none" stroke="#e6b02a" stroke-width="1.15"/><circle cx="553.60" cy="503.34" r="1.8" fill="none" stroke="#e6b02a" stroke-width="1.15"/><circle cx="551.30" cy="515.68" r="1.8" fill="none" stroke="#e6b02a" stroke-width="1.15"/><circle cx="551.30" cy="521.28" r="1.8" fill="none" stroke="#e6b02a" stroke-width="1.15"/><circle cx="551.30" cy="525.76" r="1.8" fill="none" stroke="#e6b02a" stroke-width="1.15"/><path d="M563.90,528.72V508.23M562.20,508.23H565.60M562.20,528.72H565.60" stroke="#e2302c" stroke-width="0.9" fill="none"/><circle cx="563.90" cy="480.92" r="1.8" fill="none" stroke="#e2302c" stroke-width="1.15"/><circle cx="563.90" cy="517.92" r="1.8" fill="none" stroke="#e2302c" stroke-width="1.15"/><circle cx="561.60" cy="522.40" r="1.8" fill="none" stroke="#e2302c" stroke-width="1.15"/><circle cx="566.20" cy="524.64" r="1.8" fill="none" stroke="#e2302c" stroke-width="1.15"/><circle cx="563.90" cy="543.70" r="1.8" fill="none" stroke="#e2302c" stroke-width="1.15"/><path d="M526.10,448.10H538.70" stroke="#9c9c9c" stroke-width="0.75"/><text x="533.00" y="447.40" font-size="7.8" font-weight="bold" text-anchor="middle" fill="#111" letter-spacing="1.2" stroke="#111" stroke-width="0.35">****</text><path d="M526.10,438.60H551.30" stroke="#9c9c9c" stroke-width="0.75"/><text x="539.30" y="437.90" font-size="7.8" font-weight="bold" text-anchor="middle" fill="#111" letter-spacing="1.2" stroke="#111" stroke-width="0.35">*</text><text x="544.60" y="374.90" font-size="10.6" font-weight="bold" text-anchor="middle" fill="#111" >Env</text><path d="M63.40,665.50V772.60H168.40" stroke="#111" stroke-width="1.95" fill="none"/><path d="M58.60,772.60H63.40" stroke="#111" stroke-width="1.75"/><text x="57.50" y="775.36" font-size="7.9" font-weight="bold" text-anchor="end" fill="#111" stroke="#111" stroke-width="0.2">0</text><path d="M58.60,746.05H63.40" stroke="#111" stroke-width="1.75"/><text x="57.50" y="748.81" font-size="7.9" font-weight="bold" text-anchor="end" fill="#111" stroke="#111" stroke-width="0.2">500</text><path d="M58.60,719.50H63.40" stroke="#111" stroke-width="1.75"/><text x="57.50" y="722.26" font-size="7.9" font-weight="bold" text-anchor="end" fill="#111" stroke="#111" stroke-width="0.2">1000</text><path d="M58.60,692.95H63.40" stroke="#111" stroke-width="1.75"/><text x="57.50" y="695.71" font-size="7.9" font-weight="bold" text-anchor="end" fill="#111" stroke="#111" stroke-width="0.2">1500</text><path d="M58.60,666.40H63.40" stroke="#111" stroke-width="1.75"/><text x="57.50" y="669.16" font-size="7.9" font-weight="bold" text-anchor="end" fill="#111" stroke="#111" stroke-width="0.2">2000</text><path d="M88.50,772.60V777.60" stroke="#111" stroke-width="1.75"/><text x="88.50" y="786.20" font-size="8.4" font-weight="bold" text-anchor="middle" fill="#111" >P2</text><path d="M142.10,772.60V777.60" stroke="#111" stroke-width="1.75"/><text x="142.10" y="786.20" font-size="8.4" font-weight="bold" text-anchor="middle" fill="#111" >P3</text><rect x="67.89" y="771.01" width="6.73" height="1.59" fill="#fff" stroke="#2a2a2a" stroke-width="1.55"/><rect x="79.39" y="755.08" width="6.73" height="17.52" fill="#fff" stroke="#2a2a2a" stroke-width="1.55"/><rect x="90.89" y="765.17" width="6.73" height="7.43" fill="#fff" stroke="#2a2a2a" stroke-width="1.55"/><rect x="102.39" y="770.48" width="6.73" height="2.12" fill="#fff" stroke="#2a2a2a" stroke-width="1.55"/><rect x="67.15" y="770.75" width="8.20" height="3.7" rx="1.85" fill="#8a8a8a"/><circle cx="68.75" cy="769.41" r="1.8" fill="none" stroke="#8a8a8a" stroke-width="1.15"/><circle cx="71.25" cy="770.48" r="1.8" fill="none" stroke="#8a8a8a" stroke-width="1.15"/><circle cx="73.75" cy="771.01" r="1.8" fill="none" stroke="#8a8a8a" stroke-width="1.15"/><path d="M82.75,756.74V753.41M81.05,753.41H84.45M81.05,756.74H84.45" stroke="#2a4cc8" stroke-width="0.9" fill="none"/><circle cx="80.45" cy="749.50" r="1.8" fill="none" stroke="#2a4cc8" stroke-width="1.15"/><circle cx="85.05" cy="750.30" r="1.8" fill="none" stroke="#2a4cc8" stroke-width="1.15"/><circle cx="80.25" cy="754.55" r="1.8" fill="none" stroke="#2a4cc8" stroke-width="1.15"/><circle cx="82.75" cy="755.61" r="1.8" fill="none" stroke="#2a4cc8" stroke-width="1.15"/><circle cx="85.25" cy="756.67" r="1.8" fill="none" stroke="#2a4cc8" stroke-width="1.15"/><circle cx="82.75" cy="760.39" r="1.8" fill="none" stroke="#2a4cc8" stroke-width="1.15"/><path d="M94.25,767.00V763.33M92.55,763.33H95.95M92.55,767.00H95.95" stroke="#e6b02a" stroke-width="0.9" fill="none"/><circle cx="91.95" cy="757.73" r="1.8" fill="none" stroke="#e6b02a" stroke-width="1.15"/><circle cx="96.55" cy="758.26" r="1.8" fill="none" stroke="#e6b02a" stroke-width="1.15"/><circle cx="91.95" cy="761.98" r="1.8" fill="none" stroke="#e6b02a" stroke-width="1.15"/><circle cx="96.55" cy="764.63" r="1.8" fill="none" stroke="#e6b02a" stroke-width="1.15"/><circle cx="94.25" cy="767.29" r="1.8" fill="none" stroke="#e6b02a" stroke-width="1.15"/><path d="M105.75,772.26V768.69M104.05,768.69H107.45M104.05,772.26H107.45" stroke="#e2302c" stroke-width="0.9" fill="none"/><rect x="101.65" y="770.75" width="8.20" height="3.7" rx="1.85" fill="#e2302c"/><circle cx="105.75" cy="762.51" r="1.8" fill="none" stroke="#e2302c" stroke-width="1.15"/><circle cx="103.45" cy="767.82" r="1.8" fill="none" stroke="#e2302c" stroke-width="1.15"/><circle cx="108.05" cy="769.95" r="1.8" fill="none" stroke="#e2302c" stroke-width="1.15"/><rect x="132.99" y="735.43" width="6.73" height="37.17" fill="#fff" stroke="#2a2a2a" stroke-width="1.55"/><rect x="144.49" y="737.02" width="6.73" height="35.58" fill="#fff" stroke="#2a2a2a" stroke-width="1.55"/><rect x="155.99" y="762.67" width="6.73" height="9.93" fill="#fff" stroke="#2a2a2a" stroke-width="1.55"/><rect x="120.75" y="770.75" width="8.20" height="3.7" rx="1.85" fill="#8a8a8a"/><path d="M136.35,740.79V730.07M134.65,730.07H138.05M134.65,740.79H138.05" stroke="#2a4cc8" stroke-width="0.9" fill="none"/><circle cx="134.05" cy="723.75" r="1.8" fill="none" stroke="#2a4cc8" stroke-width="1.15"/><circle cx="138.65" cy="724.28" r="1.8" fill="none" stroke="#2a4cc8" stroke-width="1.15"/><circle cx="134.05" cy="734.10" r="1.8" fill="none" stroke="#2a4cc8" stroke-width="1.15"/><circle cx="138.65" cy="734.90" r="1.8" fill="none" stroke="#2a4cc8" stroke-width="1.15"/><circle cx="136.35" cy="737.55" r="1.8" fill="none" stroke="#2a4cc8" stroke-width="1.15"/><circle cx="136.35" cy="759.86" r="1.8" fill="none" stroke="#2a4cc8" stroke-width="1.15"/><path d="M147.85,739.94V734.11M146.15,734.11H149.55M146.15,739.94H149.55" stroke="#e6b02a" stroke-width="0.9" fill="none"/><circle cx="147.85" cy="723.75" r="1.8" fill="none" stroke="#e6b02a" stroke-width="1.15"/><circle cx="147.85" cy="726.93" r="1.8" fill="none" stroke="#e6b02a" stroke-width="1.15"/><circle cx="147.85" cy="734.10" r="1.8" fill="none" stroke="#e6b02a" stroke-width="1.15"/><circle cx="145.55" cy="737.55" r="1.8" fill="none" stroke="#e6b02a" stroke-width="1.15"/><circle cx="150.15" cy="740.47" r="1.8" fill="none" stroke="#e6b02a" stroke-width="1.15"/><circle cx="147.85" cy="740.74" r="1.8" fill="none" stroke="#e6b02a" stroke-width="1.15"/><path d="M159.35,764.40V760.94M157.65,760.94H161.05M157.65,764.40H161.05" stroke="#e2302c" stroke-width="0.9" fill="none"/><circle cx="159.35" cy="757.20" r="1.8" fill="none" stroke="#e2302c" stroke-width="1.15"/><circle cx="157.05" cy="760.39" r="1.8" fill="none" stroke="#e2302c" stroke-width="1.15"/><circle cx="161.65" cy="761.98" r="1.8" fill="none" stroke="#e2302c" stroke-width="1.15"/><circle cx="157.05" cy="764.63" r="1.8" fill="none" stroke="#e2302c" stroke-width="1.15"/><circle cx="161.65" cy="767.29" r="1.8" fill="none" stroke="#e2302c" stroke-width="1.15"/><path d="M71.25,720.20H94.25" stroke="#9c9c9c" stroke-width="0.75"/><text x="83.35" y="719.50" font-size="7.8" font-weight="bold" text-anchor="middle" fill="#111" letter-spacing="1.2" stroke="#111" stroke-width="0.35">*</text><path d="M71.25,729.60H82.75" stroke="#9c9c9c" stroke-width="0.75"/><text x="77.60" y="728.90" font-size="7.8" font-weight="bold" text-anchor="middle" fill="#111" letter-spacing="1.2" stroke="#111" stroke-width="0.35">****</text><path d="M82.75,734.90H105.75" stroke="#9c9c9c" stroke-width="0.75"/><text x="94.85" y="734.20" font-size="7.8" font-weight="bold" text-anchor="middle" fill="#111" letter-spacing="1.2" stroke="#111" stroke-width="0.35">***</text><path d="M82.75,742.60H94.25" stroke="#9c9c9c" stroke-width="0.75"/><text x="89.10" y="741.90" font-size="7.8" font-weight="bold" text-anchor="middle" fill="#111" letter-spacing="1.2" stroke="#111" stroke-width="0.35">*</text><path d="M124.85,690.70H159.35" stroke="#9c9c9c" stroke-width="0.75"/><text x="142.70" y="690.00" font-size="7.8" font-weight="bold" text-anchor="middle" fill="#111" letter-spacing="1.2" stroke="#111" stroke-width="0.35">**</text><path d="M136.35,698.30H159.35" stroke="#9c9c9c" stroke-width="0.75"/><text x="148.45" y="697.60" font-size="7.8" font-weight="bold" text-anchor="middle" fill="#111" letter-spacing="1.2" stroke="#111" stroke-width="0.35">****</text><path d="M124.85,708.60H147.85" stroke="#9c9c9c" stroke-width="0.75"/><text x="136.95" y="707.90" font-size="7.8" font-weight="bold" text-anchor="middle" fill="#111" letter-spacing="1.2" stroke="#111" stroke-width="0.35">****</text><path d="M124.85,718.50H136.35" stroke="#9c9c9c" stroke-width="0.75"/><text x="131.20" y="717.80" font-size="7.8" font-weight="bold" text-anchor="middle" fill="#111" letter-spacing="1.2" stroke="#111" stroke-width="0.35">****</text><path d="M147.85,718.00H159.35" stroke="#9c9c9c" stroke-width="0.75"/><text x="154.20" y="717.30" font-size="7.8" font-weight="bold" text-anchor="middle" fill="#111" letter-spacing="1.2" stroke="#111" stroke-width="0.35">****</text><text x="115.00" y="613.70" font-size="10.6" font-weight="bold" text-anchor="middle" fill="#111" >NS1</text><path d="M221.60,665.50V772.60H326.30" stroke="#111" stroke-width="1.95" fill="none"/><path d="M216.80,772.60H221.60" stroke="#111" stroke-width="1.75"/><text x="215.70" y="775.36" font-size="7.9" font-weight="bold" text-anchor="end" fill="#111" stroke="#111" stroke-width="0.2">0</text><path d="M216.80,746.05H221.60" stroke="#111" stroke-width="1.75"/><text x="215.70" y="748.81" font-size="7.9" font-weight="bold" text-anchor="end" fill="#111" stroke="#111" stroke-width="0.2">500</text><path d="M216.80,719.50H221.60" stroke="#111" stroke-width="1.75"/><text x="215.70" y="722.26" font-size="7.9" font-weight="bold" text-anchor="end" fill="#111" stroke="#111" stroke-width="0.2">1000</text><path d="M216.80,692.95H221.60" stroke="#111" stroke-width="1.75"/><text x="215.70" y="695.71" font-size="7.9" font-weight="bold" text-anchor="end" fill="#111" stroke="#111" stroke-width="0.2">1500</text><path d="M216.80,666.40H221.60" stroke="#111" stroke-width="1.75"/><text x="215.70" y="669.16" font-size="7.9" font-weight="bold" text-anchor="end" fill="#111" stroke="#111" stroke-width="0.2">2000</text><path d="M246.50,772.60V777.60" stroke="#111" stroke-width="1.75"/><text x="246.50" y="786.20" font-size="8.4" font-weight="bold" text-anchor="middle" fill="#111" >P1</text><path d="M300.70,772.60V777.60" stroke="#111" stroke-width="1.75"/><text x="300.70" y="786.20" font-size="8.4" font-weight="bold" text-anchor="middle" fill="#111" >P2</text><rect x="225.71" y="762.40" width="6.79" height="10.20" fill="#fff" stroke="#2a2a2a" stroke-width="1.55"/><rect x="237.31" y="707.50" width="6.79" height="65.10" fill="#fff" stroke="#2a2a2a" stroke-width="1.55"/><rect x="248.91" y="718.44" width="6.79" height="54.16" fill="#fff" stroke="#2a2a2a" stroke-width="1.55"/><path d="M229.10,766.28V758.53M227.40,758.53H230.80M227.40,766.28H230.80" stroke="#8a8a8a" stroke-width="0.9" fill="none"/><rect x="225.00" y="770.75" width="8.20" height="3.7" rx="1.85" fill="#8a8a8a"/><circle cx="226.80" cy="743.39" r="1.8" fill="none" stroke="#8a8a8a" stroke-width="1.15"/><circle cx="231.40" cy="744.99" r="1.8" fill="none" stroke="#8a8a8a" stroke-width="1.15"/><circle cx="229.10" cy="755.61" r="1.8" fill="none" stroke="#8a8a8a" stroke-width="1.15"/><circle cx="229.10" cy="761.45" r="1.8" fill="none" stroke="#8a8a8a" stroke-width="1.15"/><circle cx="226.80" cy="767.29" r="1.8" fill="none" stroke="#8a8a8a" stroke-width="1.15"/><circle cx="231.40" cy="769.95" r="1.8" fill="none" stroke="#8a8a8a" stroke-width="1.15"/><path d="M240.70,712.71V702.29M239.00,702.29H242.40M239.00,712.71H242.40" stroke="#2a4cc8" stroke-width="0.9" fill="none"/><circle cx="238.40" cy="691.36" r="1.8" fill="none" stroke="#2a4cc8" stroke-width="1.15"/><circle cx="243.00" cy="693.48" r="1.8" fill="none" stroke="#2a4cc8" stroke-width="1.15"/><circle cx="240.70" cy="706.23" r="1.8" fill="none" stroke="#2a4cc8" stroke-width="1.15"/><circle cx="238.40" cy="712.60" r="1.8" fill="none" stroke="#2a4cc8" stroke-width="1.15"/><circle cx="243.00" cy="713.13" r="1.8" fill="none" stroke="#2a4cc8" stroke-width="1.15"/><circle cx="240.70" cy="724.81" r="1.8" fill="none" stroke="#2a4cc8" stroke-width="1.15"/><path d="M252.30,723.13V713.74M250.60,713.74H254.00M250.60,723.13H254.00" stroke="#e6b02a" stroke-width="0.9" fill="none"/><circle cx="252.30" cy="698.79" r="1.8" fill="none" stroke="#e6b02a" stroke-width="1.15"/><circle cx="250.00" cy="712.60" r="1.8" fill="none" stroke="#e6b02a" stroke-width="1.15"/><circle cx="254.60" cy="713.66" r="1.8" fill="none" stroke="#e6b02a" stroke-width="1.15"/><circle cx="252.30" cy="719.50" r="1.8" fill="none" stroke="#e6b02a" stroke-width="1.15"/><circle cx="252.30" cy="724.81" r="1.8" fill="none" stroke="#e6b02a" stroke-width="1.15"/><circle cx="252.30" cy="732.24" r="1.8" fill="none" stroke="#e6b02a" stroke-width="1.15"/><rect x="259.80" y="770.75" width="8.20" height="3.7" rx="1.85" fill="#e2302c"/><rect x="279.91" y="764.63" width="6.79" height="7.97" fill="#fff" stroke="#2a2a2a" stroke-width="1.55"/><rect x="291.51" y="709.52" width="6.79" height="63.08" fill="#fff" stroke="#2a2a2a" stroke-width="1.55"/><rect x="303.11" y="716.00" width="6.79" height="56.60" fill="#fff" stroke="#2a2a2a" stroke-width="1.55"/><path d="M283.30,768.39V760.88M281.60,760.88H285.00M281.60,768.39H285.00" stroke="#8a8a8a" stroke-width="0.9" fill="none"/><rect x="279.20" y="770.75" width="8.20" height="3.7" rx="1.85" fill="#8a8a8a"/><circle cx="283.30" cy="744.46" r="1.8" fill="none" stroke="#8a8a8a" stroke-width="1.15"/><circle cx="283.30" cy="751.89" r="1.8" fill="none" stroke="#8a8a8a" stroke-width="1.15"/><circle cx="281.00" cy="761.98" r="1.8" fill="none" stroke="#8a8a8a" stroke-width="1.15"/><circle cx="285.60" cy="764.63" r="1.8" fill="none" stroke="#8a8a8a" stroke-width="1.15"/><circle cx="283.30" cy="769.95" r="1.8" fill="none" stroke="#8a8a8a" stroke-width="1.15"/><path d="M294.90,720.64V698.40M293.20,698.40H296.60M293.20,720.64H296.60" stroke="#2a4cc8" stroke-width="0.9" fill="none"/><circle cx="294.90" cy="673.83" r="1.8" fill="none" stroke="#2a4cc8" stroke-width="1.15"/><circle cx="294.90" cy="695.61" r="1.8" fill="none" stroke="#2a4cc8" stroke-width="1.15"/><circle cx="294.90" cy="700.38" r="1.8" fill="none" stroke="#2a4cc8" stroke-width="1.15"/><circle cx="294.90" cy="714.19" r="1.8" fill="none" stroke="#2a4cc8" stroke-width="1.15"/><circle cx="294.90" cy="722.15" r="1.8" fill="none" stroke="#2a4cc8" stroke-width="1.15"/><circle cx="294.90" cy="754.01" r="1.8" fill="none" stroke="#2a4cc8" stroke-width="1.15"/><path d="M306.50,721.61V710.38M304.80,710.38H308.20M304.80,721.61H308.20" stroke="#e6b02a" stroke-width="0.9" fill="none"/><circle cx="306.50" cy="697.20" r="1.8" fill="none" stroke="#e6b02a" stroke-width="1.15"/><circle cx="306.50" cy="700.38" r="1.8" fill="none" stroke="#e6b02a" stroke-width="1.15"/><circle cx="306.50" cy="706.23" r="1.8" fill="none" stroke="#e6b02a" stroke-width="1.15"/><circle cx="306.50" cy="712.60" r="1.8" fill="none" stroke="#e6b02a" stroke-width="1.15"/><circle cx="304.20" cy="724.81" r="1.8" fill="none" stroke="#e6b02a" stroke-width="1.15"/><circle cx="308.80" cy="726.40" r="1.8" fill="none" stroke="#e6b02a" stroke-width="1.15"/><circle cx="306.50" cy="737.02" r="1.8" fill="none" stroke="#e6b02a" stroke-width="1.15"/><rect x="314.00" y="770.75" width="8.20" height="3.7" rx="1.85" fill="#e2302c"/><path d="M229.10,671.80H252.30" stroke="#9c9c9c" stroke-width="0.75"/><text x="241.30" y="671.10" font-size="7.8" font-weight="bold" text-anchor="middle" fill="#111" letter-spacing="1.2" stroke="#111" stroke-width="0.35">****</text><path d="M229.10,681.50H240.70" stroke="#9c9c9c" stroke-width="0.75"/><text x="235.50" y="680.80" font-size="7.8" font-weight="bold" text-anchor="middle" fill="#111" letter-spacing="1.2" stroke="#111" stroke-width="0.35">****</text><path d="M240.70,684.30H263.90" stroke="#9c9c9c" stroke-width="0.75"/><text x="252.90" y="683.60" font-size="7.8" font-weight="bold" text-anchor="middle" fill="#111" letter-spacing="1.2" stroke="#111" stroke-width="0.35">****</text><path d="M252.30,692.30H263.90" stroke="#9c9c9c" stroke-width="0.75"/><text x="258.70" y="691.60" font-size="7.8" font-weight="bold" text-anchor="middle" fill="#111" letter-spacing="1.2" stroke="#111" stroke-width="0.35">****</text><path d="M283.30,652.10H306.50" stroke="#9c9c9c" stroke-width="0.75"/><text x="295.50" y="651.40" font-size="7.8" font-weight="bold" text-anchor="middle" fill="#111" letter-spacing="1.2" stroke="#111" stroke-width="0.35">****</text><path d="M283.30,661.70H294.90" stroke="#9c9c9c" stroke-width="0.75"/><text x="289.70" y="661.00" font-size="7.8" font-weight="bold" text-anchor="middle" fill="#111" letter-spacing="1.2" stroke="#111" stroke-width="0.35">****</text><path d="M294.90,667.70H318.10" stroke="#9c9c9c" stroke-width="0.75"/><text x="307.10" y="667.00" font-size="7.8" font-weight="bold" text-anchor="middle" fill="#111" letter-spacing="1.2" stroke="#111" stroke-width="0.35">****</text><path d="M306.50,692.30H318.10" stroke="#9c9c9c" stroke-width="0.75"/><text x="312.90" y="691.60" font-size="7.8" font-weight="bold" text-anchor="middle" fill="#111" letter-spacing="1.2" stroke="#111" stroke-width="0.35">****</text><text x="273.70" y="613.70" font-size="10.6" font-weight="bold" text-anchor="middle" fill="#111" >NS2</text><path d="M386.60,665.50V772.60H544.20" stroke="#111" stroke-width="1.95" fill="none"/><path d="M381.80,772.60H386.60" stroke="#111" stroke-width="1.75"/><text x="380.70" y="775.36" font-size="7.9" font-weight="bold" text-anchor="end" fill="#111" stroke="#111" stroke-width="0.2">0</text><path d="M381.80,746.05H386.60" stroke="#111" stroke-width="1.75"/><text x="380.70" y="748.81" font-size="7.9" font-weight="bold" text-anchor="end" fill="#111" stroke="#111" stroke-width="0.2">500</text><path d="M381.80,719.50H386.60" stroke="#111" stroke-width="1.75"/><text x="380.70" y="722.26" font-size="7.9" font-weight="bold" text-anchor="end" fill="#111" stroke="#111" stroke-width="0.2">1000</text><path d="M381.80,692.95H386.60" stroke="#111" stroke-width="1.75"/><text x="380.70" y="695.71" font-size="7.9" font-weight="bold" text-anchor="end" fill="#111" stroke="#111" stroke-width="0.2">1500</text><path d="M381.80,666.40H386.60" stroke="#111" stroke-width="1.75"/><text x="380.70" y="669.16" font-size="7.9" font-weight="bold" text-anchor="end" fill="#111" stroke="#111" stroke-width="0.2">2000</text><path d="M410.90,772.60V777.60" stroke="#111" stroke-width="1.75"/><text x="410.90" y="786.20" font-size="8.4" font-weight="bold" text-anchor="middle" fill="#111" >P1</text><path d="M465.60,772.60V777.60" stroke="#111" stroke-width="1.75"/><text x="465.60" y="786.20" font-size="8.4" font-weight="bold" text-anchor="middle" fill="#111" >P2</text><path d="M518.70,772.60V777.60" stroke="#111" stroke-width="1.75"/><text x="518.70" y="786.20" font-size="8.4" font-weight="bold" text-anchor="middle" fill="#111" >P5</text><rect x="390.29" y="767.29" width="6.73" height="5.31" fill="#fff" stroke="#2a2a2a" stroke-width="1.55"/><rect x="401.79" y="710.69" width="6.73" height="61.91" fill="#fff" stroke="#2a2a2a" stroke-width="1.55"/><rect x="413.29" y="710.69" width="6.73" height="61.91" fill="#fff" stroke="#2a2a2a" stroke-width="1.55"/><path d="M393.65,770.60V763.98M391.95,763.98H395.35M391.95,770.60H395.35" stroke="#8a8a8a" stroke-width="0.9" fill="none"/><rect x="389.55" y="770.75" width="8.20" height="3.7" rx="1.85" fill="#8a8a8a"/><circle cx="393.65" cy="749.77" r="1.8" fill="none" stroke="#8a8a8a" stroke-width="1.15"/><circle cx="391.35" cy="754.55" r="1.8" fill="none" stroke="#8a8a8a" stroke-width="1.15"/><circle cx="395.95" cy="756.67" r="1.8" fill="none" stroke="#8a8a8a" stroke-width="1.15"/><circle cx="391.35" cy="767.29" r="1.8" fill="none" stroke="#8a8a8a" stroke-width="1.15"/><circle cx="395.95" cy="769.95" r="1.8" fill="none" stroke="#8a8a8a" stroke-width="1.15"/><path d="M405.15,714.26V707.11M403.45,707.11H406.85M403.45,714.26H406.85" stroke="#2a4cc8" stroke-width="0.9" fill="none"/><circle cx="405.15" cy="698.26" r="1.8" fill="none" stroke="#2a4cc8" stroke-width="1.15"/><circle cx="405.15" cy="701.45" r="1.8" fill="none" stroke="#2a4cc8" stroke-width="1.15"/><circle cx="405.15" cy="708.88" r="1.8" fill="none" stroke="#2a4cc8" stroke-width="1.15"/><circle cx="405.15" cy="714.19" r="1.8" fill="none" stroke="#2a4cc8" stroke-width="1.15"/><circle cx="402.85" cy="717.91" r="1.8" fill="none" stroke="#2a4cc8" stroke-width="1.15"/><circle cx="407.45" cy="719.50" r="1.8" fill="none" stroke="#2a4cc8" stroke-width="1.15"/><path d="M416.65,716.20V705.17M414.95,705.17H418.35M414.95,716.20H418.35" stroke="#e6b02a" stroke-width="0.9" fill="none"/><circle cx="416.65" cy="695.07" r="1.8" fill="none" stroke="#e6b02a" stroke-width="1.15"/><circle cx="414.35" cy="703.57" r="1.8" fill="none" stroke="#e6b02a" stroke-width="1.15"/><circle cx="418.95" cy="705.16" r="1.8" fill="none" stroke="#e6b02a" stroke-width="1.15"/><circle cx="416.65" cy="715.25" r="1.8" fill="none" stroke="#e6b02a" stroke-width="1.15"/><circle cx="416.65" cy="720.03" r="1.8" fill="none" stroke="#e6b02a" stroke-width="1.15"/><circle cx="416.65" cy="732.77" r="1.8" fill="none" stroke="#e6b02a" stroke-width="1.15"/><rect x="424.05" y="770.75" width="8.20" height="3.7" rx="1.85" fill="#e2302c"/><rect x="444.99" y="767.29" width="6.73" height="5.31" fill="#fff" stroke="#2a2a2a" stroke-width="1.55"/><rect x="456.49" y="737.18" width="6.73" height="35.42" fill="#fff" stroke="#2a2a2a" stroke-width="1.55"/><rect x="467.99" y="750.83" width="6.73" height="21.77" fill="#fff" stroke="#2a2a2a" stroke-width="1.55"/><path d="M448.35,772.05V762.53M446.65,762.53H450.05M446.65,772.05H450.05" stroke="#8a8a8a" stroke-width="0.9" fill="none"/><rect x="444.25" y="770.75" width="8.20" height="3.7" rx="1.85" fill="#8a8a8a"/><circle cx="448.35" cy="737.55" r="1.8" fill="none" stroke="#8a8a8a" stroke-width="1.15"/><circle cx="448.35" cy="760.92" r="1.8" fill="none" stroke="#8a8a8a" stroke-width="1.15"/><circle cx="448.35" cy="764.63" r="1.8" fill="none" stroke="#8a8a8a" stroke-width="1.15"/><circle cx="448.35" cy="768.35" r="1.8" fill="none" stroke="#8a8a8a" stroke-width="1.15"/><path d="M459.85,743.98V730.39M458.15,730.39H461.55M458.15,743.98H461.55" stroke="#2a4cc8" stroke-width="0.9" fill="none"/><circle cx="459.85" cy="713.66" r="1.8" fill="none" stroke="#2a4cc8" stroke-width="1.15"/><circle cx="459.85" cy="724.81" r="1.8" fill="none" stroke="#2a4cc8" stroke-width="1.15"/><circle cx="459.85" cy="732.24" r="1.8" fill="none" stroke="#2a4cc8" stroke-width="1.15"/><circle cx="459.85" cy="742.33" r="1.8" fill="none" stroke="#2a4cc8" stroke-width="1.15"/><circle cx="459.85" cy="752.95" r="1.8" fill="none" stroke="#2a4cc8" stroke-width="1.15"/><circle cx="459.85" cy="756.67" r="1.8" fill="none" stroke="#2a4cc8" stroke-width="1.15"/><path d="M471.35,755.02V746.64M469.65,746.64H473.05M469.65,755.02H473.05" stroke="#e6b02a" stroke-width="0.9" fill="none"/><circle cx="471.35" cy="735.96" r="1.8" fill="none" stroke="#e6b02a" stroke-width="1.15"/><circle cx="471.35" cy="742.86" r="1.8" fill="none" stroke="#e6b02a" stroke-width="1.15"/><circle cx="471.35" cy="748.17" r="1.8" fill="none" stroke="#e6b02a" stroke-width="1.15"/><circle cx="471.35" cy="754.01" r="1.8" fill="none" stroke="#e6b02a" stroke-width="1.15"/><circle cx="469.05" cy="760.92" r="1.8" fill="none" stroke="#e6b02a" stroke-width="1.15"/><circle cx="473.65" cy="761.98" r="1.8" fill="none" stroke="#e6b02a" stroke-width="1.15"/><rect x="478.75" y="770.75" width="8.20" height="3.7" rx="1.85" fill="#e2302c"/><rect x="498.09" y="767.29" width="6.73" height="5.31" fill="#fff" stroke="#2a2a2a" stroke-width="1.55"/><rect x="509.59" y="713.39" width="6.73" height="59.21" fill="#fff" stroke="#2a2a2a" stroke-width="1.55"/><rect x="521.09" y="737.77" width="6.73" height="34.83" fill="#fff" stroke="#2a2a2a" stroke-width="1.55"/><path d="M501.45,770.18V764.40M499.75,764.40H503.15M499.75,770.18H503.15" stroke="#8a8a8a" stroke-width="0.9" fill="none"/><rect x="497.35" y="770.75" width="8.20" height="3.7" rx="1.85" fill="#8a8a8a"/><circle cx="499.15" cy="755.08" r="1.8" fill="none" stroke="#8a8a8a" stroke-width="1.15"/><circle cx="503.75" cy="756.67" r="1.8" fill="none" stroke="#8a8a8a" stroke-width="1.15"/><circle cx="501.45" cy="758.79" r="1.8" fill="none" stroke="#8a8a8a" stroke-width="1.15"/><circle cx="499.15" cy="767.29" r="1.8" fill="none" stroke="#8a8a8a" stroke-width="1.15"/><circle cx="503.75" cy="769.95" r="1.8" fill="none" stroke="#8a8a8a" stroke-width="1.15"/><path d="M512.95,719.45V707.34M511.25,707.34H514.65M511.25,719.45H514.65" stroke="#2a4cc8" stroke-width="0.9" fill="none"/><circle cx="512.95" cy="690.83" r="1.8" fill="none" stroke="#2a4cc8" stroke-width="1.15"/><circle cx="512.95" cy="698.26" r="1.8" fill="none" stroke="#2a4cc8" stroke-width="1.15"/><circle cx="512.95" cy="713.13" r="1.8" fill="none" stroke="#2a4cc8" stroke-width="1.15"/><circle cx="512.95" cy="717.38" r="1.8" fill="none" stroke="#2a4cc8" stroke-width="1.15"/><circle cx="510.65" cy="725.87" r="1.8" fill="none" stroke="#2a4cc8" stroke-width="1.15"/><circle cx="515.25" cy="727.47" r="1.8" fill="none" stroke="#2a4cc8" stroke-width="1.15"/><path d="M524.45,742.48V733.05M522.75,733.05H526.15M522.75,742.48H526.15" stroke="#e6b02a" stroke-width="0.9" fill="none"/><circle cx="522.15" cy="719.50" r="1.8" fill="none" stroke="#e6b02a" stroke-width="1.15"/><circle cx="526.75" cy="719.50" r="1.8" fill="none" stroke="#e6b02a" stroke-width="1.15"/><circle cx="522.15" cy="735.43" r="1.8" fill="none" stroke="#e6b02a" stroke-width="1.15"/><circle cx="526.75" cy="737.02" r="1.8" fill="none" stroke="#e6b02a" stroke-width="1.15"/><circle cx="524.45" cy="741.27" r="1.8" fill="none" stroke="#e6b02a" stroke-width="1.15"/><circle cx="524.45" cy="745.52" r="1.8" fill="none" stroke="#e6b02a" stroke-width="1.15"/><circle cx="524.45" cy="752.42" r="1.8" fill="none" stroke="#e6b02a" stroke-width="1.15"/><rect x="531.85" y="770.75" width="8.20" height="3.7" rx="1.85" fill="#e2302c"/><path d="M405.15,672.80H428.15" stroke="#9c9c9c" stroke-width="0.75"/><text x="417.25" y="672.10" font-size="7.8" font-weight="bold" text-anchor="middle" fill="#111" letter-spacing="1.2" stroke="#111" stroke-width="0.35">****</text><path d="M393.65,682.00H416.65" stroke="#9c9c9c" stroke-width="0.75"/><text x="405.75" y="681.30" font-size="7.8" font-weight="bold" text-anchor="middle" fill="#111" letter-spacing="1.2" stroke="#111" stroke-width="0.35">****</text><path d="M393.65,695.10H405.15" stroke="#9c9c9c" stroke-width="0.75"/><text x="400.00" y="694.40" font-size="7.8" font-weight="bold" text-anchor="middle" fill="#111" letter-spacing="1.2" stroke="#111" stroke-width="0.35">****</text><path d="M416.65,690.70H428.15" stroke="#9c9c9c" stroke-width="0.75"/><text x="423.00" y="690.00" font-size="7.8" font-weight="bold" text-anchor="middle" fill="#111" letter-spacing="1.2" stroke="#111" stroke-width="0.35">****</text><path d="M459.85,692.00H482.85" stroke="#9c9c9c" stroke-width="0.75"/><text x="471.95" y="691.30" font-size="7.8" font-weight="bold" text-anchor="middle" fill="#111" letter-spacing="1.2" stroke="#111" stroke-width="0.35">****</text><path d="M448.35,700.60H471.35" stroke="#9c9c9c" stroke-width="0.75"/><text x="460.45" y="699.90" font-size="7.8" font-weight="bold" text-anchor="middle" fill="#111" letter-spacing="1.2" stroke="#111" stroke-width="0.35">**</text><path d="M448.35,709.00H459.85" stroke="#9c9c9c" stroke-width="0.75"/><text x="454.70" y="708.30" font-size="7.8" font-weight="bold" text-anchor="middle" fill="#111" letter-spacing="1.2" stroke="#111" stroke-width="0.35">****</text><path d="M471.35,729.30H482.85" stroke="#9c9c9c" stroke-width="0.75"/><text x="477.70" y="728.60" font-size="7.8" font-weight="bold" text-anchor="middle" fill="#111" letter-spacing="1.2" stroke="#111" stroke-width="0.35">***</text><path d="M512.95,656.10H535.95" stroke="#9c9c9c" stroke-width="0.75"/><text x="525.05" y="655.40" font-size="7.8" font-weight="bold" text-anchor="middle" fill="#111" letter-spacing="1.2" stroke="#111" stroke-width="0.35">****</text><path d="M501.45,665.30H524.45" stroke="#9c9c9c" stroke-width="0.75"/><text x="513.55" y="664.60" font-size="7.8" font-weight="bold" text-anchor="middle" fill="#111" letter-spacing="1.2" stroke="#111" stroke-width="0.35">****</text><path d="M512.95,673.10H524.45" stroke="#9c9c9c" stroke-width="0.75"/><text x="519.30" y="672.40" font-size="7.8" font-weight="bold" text-anchor="middle" fill="#111" letter-spacing="1.2" stroke="#111" stroke-width="0.35">***</text><path d="M501.45,684.00H512.95" stroke="#9c9c9c" stroke-width="0.75"/><text x="507.80" y="683.30" font-size="7.8" font-weight="bold" text-anchor="middle" fill="#111" letter-spacing="1.2" stroke="#111" stroke-width="0.35">****</text><path d="M524.45,712.00H535.95" stroke="#9c9c9c" stroke-width="0.75"/><text x="530.80" y="711.30" font-size="7.8" font-weight="bold" text-anchor="middle" fill="#111" letter-spacing="1.2" stroke="#111" stroke-width="0.35">****</text><text x="465.00" y="613.70" font-size="10.6" font-weight="bold" text-anchor="middle" fill="#111" >NS3</text><path d="M63.10,866.30V973.90H167.90" stroke="#111" stroke-width="1.95" fill="none"/><path d="M58.30,973.90H63.10" stroke="#111" stroke-width="1.75"/><text x="57.20" y="976.66" font-size="7.9" font-weight="bold" text-anchor="end" fill="#111" stroke="#111" stroke-width="0.2">0</text><path d="M58.30,947.23H63.10" stroke="#111" stroke-width="1.75"/><text x="57.20" y="949.98" font-size="7.9" font-weight="bold" text-anchor="end" fill="#111" stroke="#111" stroke-width="0.2">500</text><path d="M58.30,920.55H63.10" stroke="#111" stroke-width="1.75"/><text x="57.20" y="923.31" font-size="7.9" font-weight="bold" text-anchor="end" fill="#111" stroke="#111" stroke-width="0.2">1000</text><path d="M58.30,893.88H63.10" stroke="#111" stroke-width="1.75"/><text x="57.20" y="896.63" font-size="7.9" font-weight="bold" text-anchor="end" fill="#111" stroke="#111" stroke-width="0.2">1500</text><path d="M58.30,867.20H63.10" stroke="#111" stroke-width="1.75"/><text x="57.20" y="869.96" font-size="7.9" font-weight="bold" text-anchor="end" fill="#111" stroke="#111" stroke-width="0.2">2000</text><path d="M88.40,973.90V978.90" stroke="#111" stroke-width="1.75"/><text x="88.40" y="986.90" font-size="8.4" font-weight="bold" text-anchor="middle" fill="#111" >P1</text><path d="M142.40,973.90V978.90" stroke="#111" stroke-width="1.75"/><text x="142.40" y="986.90" font-size="8.4" font-weight="bold" text-anchor="middle" fill="#111" >P2</text><rect x="67.61" y="966.59" width="6.79" height="7.31" fill="#fff" stroke="#2a2a2a" stroke-width="1.55"/><rect x="79.21" y="941.68" width="6.79" height="32.22" fill="#fff" stroke="#2a2a2a" stroke-width="1.55"/><rect x="90.81" y="918.47" width="6.79" height="55.43" fill="#fff" stroke="#2a2a2a" stroke-width="1.55"/><path d="M71.00,969.30V963.88M69.30,963.88H72.70M69.30,969.30H72.70" stroke="#8a8a8a" stroke-width="0.9" fill="none"/><rect x="66.90" y="972.05" width="8.20" height="3.7" rx="1.85" fill="#8a8a8a"/><circle cx="71.00" cy="953.09" r="1.8" fill="none" stroke="#8a8a8a" stroke-width="1.15"/><circle cx="68.70" cy="956.29" r="1.8" fill="none" stroke="#8a8a8a" stroke-width="1.15"/><circle cx="73.30" cy="957.89" r="1.8" fill="none" stroke="#8a8a8a" stroke-width="1.15"/><circle cx="68.70" cy="960.03" r="1.8" fill="none" stroke="#8a8a8a" stroke-width="1.15"/><circle cx="73.30" cy="962.16" r="1.8" fill="none" stroke="#8a8a8a" stroke-width="1.15"/><circle cx="71.00" cy="964.30" r="1.8" fill="none" stroke="#8a8a8a" stroke-width="1.15"/><path d="M82.60,949.22V934.14M80.90,934.14H84.30M80.90,949.22H84.30" stroke="#2a4cc8" stroke-width="0.9" fill="none"/><circle cx="82.60" cy="920.02" r="1.8" fill="none" stroke="#2a4cc8" stroke-width="1.15"/><circle cx="80.30" cy="931.22" r="1.8" fill="none" stroke="#2a4cc8" stroke-width="1.15"/><circle cx="84.90" cy="931.75" r="1.8" fill="none" stroke="#2a4cc8" stroke-width="1.15"/><circle cx="82.60" cy="936.55" r="1.8" fill="none" stroke="#2a4cc8" stroke-width="1.15"/><circle cx="82.60" cy="960.03" r="1.8" fill="none" stroke="#2a4cc8" stroke-width="1.15"/><circle cx="82.60" cy="967.50" r="1.8" fill="none" stroke="#2a4cc8" stroke-width="1.15"/><path d="M94.20,924.75V912.18M92.50,912.18H95.90M92.50,924.75H95.90" stroke="#e6b02a" stroke-width="0.9" fill="none"/><circle cx="94.20" cy="890.94" r="1.8" fill="none" stroke="#e6b02a" stroke-width="1.15"/><circle cx="91.90" cy="913.61" r="1.8" fill="none" stroke="#e6b02a" stroke-width="1.15"/><circle cx="96.50" cy="915.22" r="1.8" fill="none" stroke="#e6b02a" stroke-width="1.15"/><circle cx="94.20" cy="920.02" r="1.8" fill="none" stroke="#e6b02a" stroke-width="1.15"/><circle cx="94.20" cy="925.88" r="1.8" fill="none" stroke="#e6b02a" stroke-width="1.15"/><circle cx="94.20" cy="937.09" r="1.8" fill="none" stroke="#e6b02a" stroke-width="1.15"/><rect x="101.70" y="972.05" width="8.20" height="3.7" rx="1.85" fill="#e2302c"/><rect x="121.61" y="963.07" width="6.79" height="10.83" fill="#fff" stroke="#2a2a2a" stroke-width="1.55"/><rect x="133.21" y="973.26" width="6.79" height="0.64" fill="#fff" stroke="#2a2a2a" stroke-width="1.55"/><rect x="144.81" y="942.53" width="6.79" height="31.37" fill="#fff" stroke="#2a2a2a" stroke-width="1.55"/><path d="M125.00,967.65V958.49M123.30,958.49H126.70M123.30,967.65H126.70" stroke="#8a8a8a" stroke-width="0.9" fill="none"/><rect x="120.90" y="972.05" width="8.20" height="3.7" rx="1.85" fill="#8a8a8a"/><circle cx="122.70" cy="947.23" r="1.8" fill="none" stroke="#8a8a8a" stroke-width="1.15"/><circle cx="127.30" cy="949.36" r="1.8" fill="none" stroke="#8a8a8a" stroke-width="1.15"/><circle cx="122.70" cy="954.69" r="1.8" fill="none" stroke="#8a8a8a" stroke-width="1.15"/><circle cx="127.30" cy="956.83" r="1.8" fill="none" stroke="#8a8a8a" stroke-width="1.15"/><path d="M136.60,973.90V955.65M134.90,955.65H138.30M134.90,973.90H138.30" stroke="#2a4cc8" stroke-width="0.9" fill="none"/><circle cx="136.60" cy="939.76" r="1.8" fill="none" stroke="#2a4cc8" stroke-width="1.15"/><path d="M148.20,948.06V937.00M146.50,937.00H149.90M146.50,948.06H149.90" stroke="#e6b02a" stroke-width="0.9" fill="none"/><circle cx="148.20" cy="910.95" r="1.8" fill="none" stroke="#e6b02a" stroke-width="1.15"/><circle cx="145.90" cy="937.62" r="1.8" fill="none" stroke="#e6b02a" stroke-width="1.15"/><circle cx="150.50" cy="939.22" r="1.8" fill="none" stroke="#e6b02a" stroke-width="1.15"/><circle cx="145.90" cy="940.82" r="1.8" fill="none" stroke="#e6b02a" stroke-width="1.15"/><circle cx="150.50" cy="941.89" r="1.8" fill="none" stroke="#e6b02a" stroke-width="1.15"/><circle cx="148.20" cy="950.96" r="1.8" fill="none" stroke="#e6b02a" stroke-width="1.15"/><rect x="155.70" y="972.05" width="8.20" height="3.7" rx="1.85" fill="#e2302c"/><path d="M82.60,867.90H105.80" stroke="#9c9c9c" stroke-width="0.75"/><text x="94.80" y="867.20" font-size="7.8" font-weight="bold" text-anchor="middle" fill="#111" letter-spacing="1.2" stroke="#111" stroke-width="0.35">***</text><path d="M71.00,877.20H94.20" stroke="#9c9c9c" stroke-width="0.75"/><text x="83.20" y="876.50" font-size="7.8" font-weight="bold" text-anchor="middle" fill="#111" letter-spacing="1.2" stroke="#111" stroke-width="0.35">****</text><path d="M94.20,883.10H105.80" stroke="#9c9c9c" stroke-width="0.75"/><text x="100.60" y="882.40" font-size="7.8" font-weight="bold" text-anchor="middle" fill="#111" letter-spacing="1.2" stroke="#111" stroke-width="0.35">****</text><path d="M82.60,886.90H94.20" stroke="#9c9c9c" stroke-width="0.75"/><text x="89.00" y="886.20" font-size="7.8" font-weight="bold" text-anchor="middle" fill="#111" letter-spacing="1.2" stroke="#111" stroke-width="0.35">*</text><path d="M71.00,914.60H82.60" stroke="#9c9c9c" stroke-width="0.75"/><text x="77.40" y="913.90" font-size="7.8" font-weight="bold" text-anchor="middle" fill="#111" letter-spacing="1.2" stroke="#111" stroke-width="0.35">**</text><path d="M125.00,896.50H148.20" stroke="#9c9c9c" stroke-width="0.75"/><text x="137.20" y="895.80" font-size="7.8" font-weight="bold" text-anchor="middle" fill="#111" letter-spacing="1.2" stroke="#111" stroke-width="0.35">*</text><path d="M148.20,902.90H159.80" stroke="#9c9c9c" stroke-width="0.75"/><text x="154.60" y="902.20" font-size="7.8" font-weight="bold" text-anchor="middle" fill="#111" letter-spacing="1.2" stroke="#111" stroke-width="0.35">***</text><path d="M136.60,906.40H148.20" stroke="#9c9c9c" stroke-width="0.75"/><text x="143.00" y="905.70" font-size="7.8" font-weight="bold" text-anchor="middle" fill="#111" letter-spacing="1.2" stroke="#111" stroke-width="0.35">*</text><text x="115.30" y="814.30" font-size="10.6" font-weight="bold" text-anchor="middle" fill="#111" >NS4</text><path d="M214.90,866.30V973.90H426.30" stroke="#111" stroke-width="1.95" fill="none"/><path d="M210.10,973.90H214.90" stroke="#111" stroke-width="1.75"/><text x="209.00" y="976.66" font-size="7.9" font-weight="bold" text-anchor="end" fill="#111" stroke="#111" stroke-width="0.2">0</text><path d="M210.10,947.23H214.90" stroke="#111" stroke-width="1.75"/><text x="209.00" y="949.98" font-size="7.9" font-weight="bold" text-anchor="end" fill="#111" stroke="#111" stroke-width="0.2">500</text><path d="M210.10,920.55H214.90" stroke="#111" stroke-width="1.75"/><text x="209.00" y="923.31" font-size="7.9" font-weight="bold" text-anchor="end" fill="#111" stroke="#111" stroke-width="0.2">1000</text><path d="M210.10,893.88H214.90" stroke="#111" stroke-width="1.75"/><text x="209.00" y="896.63" font-size="7.9" font-weight="bold" text-anchor="end" fill="#111" stroke="#111" stroke-width="0.2">1500</text><path d="M210.10,867.20H214.90" stroke="#111" stroke-width="1.75"/><text x="209.00" y="869.96" font-size="7.9" font-weight="bold" text-anchor="end" fill="#111" stroke="#111" stroke-width="0.2">2000</text><path d="M239.90,973.90V978.90" stroke="#111" stroke-width="1.75"/><text x="239.90" y="986.90" font-size="8.4" font-weight="bold" text-anchor="middle" fill="#111" >P1</text><path d="M293.40,973.90V978.90" stroke="#111" stroke-width="1.75"/><text x="293.40" y="986.90" font-size="8.4" font-weight="bold" text-anchor="middle" fill="#111" >P2</text><path d="M347.30,973.90V978.90" stroke="#111" stroke-width="1.75"/><text x="347.30" y="986.90" font-size="8.4" font-weight="bold" text-anchor="middle" fill="#111" >P3</text><path d="M401.00,973.90V978.90" stroke="#111" stroke-width="1.75"/><text x="401.00" y="986.90" font-size="8.4" font-weight="bold" text-anchor="middle" fill="#111" >P5</text><rect x="219.47" y="968.30" width="6.67" height="5.60" fill="#fff" stroke="#2a2a2a" stroke-width="1.55"/><rect x="230.87" y="935.01" width="6.67" height="38.89" fill="#fff" stroke="#2a2a2a" stroke-width="1.55"/><rect x="242.27" y="951.39" width="6.67" height="22.51" fill="#fff" stroke="#2a2a2a" stroke-width="1.55"/><path d="M222.80,971.46V965.14M221.10,965.14H224.50M221.10,971.46H224.50" stroke="#8a8a8a" stroke-width="0.9" fill="none"/><rect x="218.70" y="972.05" width="8.20" height="3.7" rx="1.85" fill="#8a8a8a"/><circle cx="222.80" cy="950.96" r="1.8" fill="none" stroke="#8a8a8a" stroke-width="1.15"/><circle cx="222.80" cy="955.76" r="1.8" fill="none" stroke="#8a8a8a" stroke-width="1.15"/><circle cx="222.80" cy="960.56" r="1.8" fill="none" stroke="#8a8a8a" stroke-width="1.15"/><circle cx="222.80" cy="964.30" r="1.8" fill="none" stroke="#8a8a8a" stroke-width="1.15"/><circle cx="220.50" cy="968.56" r="1.8" fill="none" stroke="#8a8a8a" stroke-width="1.15"/><circle cx="225.10" cy="971.23" r="1.8" fill="none" stroke="#8a8a8a" stroke-width="1.15"/><path d="M234.20,943.52V926.50M232.50,926.50H235.90M232.50,943.52H235.90" stroke="#2a4cc8" stroke-width="0.9" fill="none"/><circle cx="234.20" cy="904.28" r="1.8" fill="none" stroke="#2a4cc8" stroke-width="1.15"/><circle cx="234.20" cy="914.15" r="1.8" fill="none" stroke="#2a4cc8" stroke-width="1.15"/><circle cx="231.90" cy="937.62" r="1.8" fill="none" stroke="#2a4cc8" stroke-width="1.15"/><circle cx="236.50" cy="939.76" r="1.8" fill="none" stroke="#2a4cc8" stroke-width="1.15"/><circle cx="234.20" cy="944.02" r="1.8" fill="none" stroke="#2a4cc8" stroke-width="1.15"/><circle cx="234.20" cy="961.36" r="1.8" fill="none" stroke="#2a4cc8" stroke-width="1.15"/><path d="M245.60,956.41V946.36M243.90,946.36H247.30M243.90,956.41H247.30" stroke="#e6b02a" stroke-width="0.9" fill="none"/><circle cx="245.60" cy="937.09" r="1.8" fill="none" stroke="#e6b02a" stroke-width="1.15"/><circle cx="245.60" cy="940.29" r="1.8" fill="none" stroke="#e6b02a" stroke-width="1.15"/><circle cx="245.60" cy="950.96" r="1.8" fill="none" stroke="#e6b02a" stroke-width="1.15"/><circle cx="245.60" cy="954.16" r="1.8" fill="none" stroke="#e6b02a" stroke-width="1.15"/><circle cx="245.60" cy="961.10" r="1.8" fill="none" stroke="#e6b02a" stroke-width="1.15"/><circle cx="245.60" cy="969.63" r="1.8" fill="none" stroke="#e6b02a" stroke-width="1.15"/><rect x="252.90" y="972.05" width="8.20" height="3.7" rx="1.85" fill="#e2302c"/><rect x="272.97" y="969.63" width="6.67" height="4.27" fill="#fff" stroke="#2a2a2a" stroke-width="1.55"/><rect x="284.37" y="919.27" width="6.67" height="54.63" fill="#fff" stroke="#2a2a2a" stroke-width="1.55"/><rect x="295.77" y="938.53" width="6.67" height="35.37" fill="#fff" stroke="#2a2a2a" stroke-width="1.55"/><path d="M276.30,973.39V965.88M274.60,965.88H278.00M274.60,973.39H278.00" stroke="#8a8a8a" stroke-width="0.9" fill="none"/><rect x="272.20" y="972.05" width="8.20" height="3.7" rx="1.85" fill="#8a8a8a"/><circle cx="276.30" cy="950.43" r="1.8" fill="none" stroke="#8a8a8a" stroke-width="1.15"/><circle cx="276.30" cy="959.50" r="1.8" fill="none" stroke="#8a8a8a" stroke-width="1.15"/><circle cx="274.00" cy="966.96" r="1.8" fill="none" stroke="#8a8a8a" stroke-width="1.15"/><circle cx="278.60" cy="969.63" r="1.8" fill="none" stroke="#8a8a8a" stroke-width="1.15"/><path d="M287.70,925.42V913.12M286.00,913.12H289.40M286.00,925.42H289.40" stroke="#2a4cc8" stroke-width="0.9" fill="none"/><circle cx="287.70" cy="892.27" r="1.8" fill="none" stroke="#2a4cc8" stroke-width="1.15"/><circle cx="285.40" cy="914.68" r="1.8" fill="none" stroke="#2a4cc8" stroke-width="1.15"/><circle cx="290.00" cy="915.75" r="1.8" fill="none" stroke="#2a4cc8" stroke-width="1.15"/><circle cx="287.70" cy="925.08" r="1.8" fill="none" stroke="#2a4cc8" stroke-width="1.15"/><circle cx="285.40" cy="931.22" r="1.8" fill="none" stroke="#2a4cc8" stroke-width="1.15"/><circle cx="290.00" cy="933.35" r="1.8" fill="none" stroke="#2a4cc8" stroke-width="1.15"/><path d="M299.10,942.65V934.41M297.40,934.41H300.80M297.40,942.65H300.80" stroke="#e6b02a" stroke-width="0.9" fill="none"/><circle cx="299.10" cy="917.88" r="1.8" fill="none" stroke="#e6b02a" stroke-width="1.15"/><circle cx="296.80" cy="937.62" r="1.8" fill="none" stroke="#e6b02a" stroke-width="1.15"/><circle cx="301.40" cy="939.76" r="1.8" fill="none" stroke="#e6b02a" stroke-width="1.15"/><circle cx="296.80" cy="941.89" r="1.8" fill="none" stroke="#e6b02a" stroke-width="1.15"/><circle cx="301.40" cy="944.02" r="1.8" fill="none" stroke="#e6b02a" stroke-width="1.15"/><circle cx="299.10" cy="945.09" r="1.8" fill="none" stroke="#e6b02a" stroke-width="1.15"/><rect x="306.40" y="972.05" width="8.20" height="3.7" rx="1.85" fill="#e2302c"/><rect x="326.87" y="964.72" width="6.67" height="9.18" fill="#fff" stroke="#2a2a2a" stroke-width="1.55"/><rect x="338.27" y="942.69" width="6.67" height="31.21" fill="#fff" stroke="#2a2a2a" stroke-width="1.55"/><rect x="349.67" y="950.64" width="6.67" height="23.26" fill="#fff" stroke="#2a2a2a" stroke-width="1.55"/><path d="M330.20,973.71V955.73M328.50,955.73H331.90M328.50,973.71H331.90" stroke="#8a8a8a" stroke-width="0.9" fill="none"/><rect x="326.10" y="972.05" width="8.20" height="3.7" rx="1.85" fill="#8a8a8a"/><circle cx="330.20" cy="915.22" r="1.8" fill="none" stroke="#8a8a8a" stroke-width="1.15"/><circle cx="330.20" cy="956.83" r="1.8" fill="none" stroke="#8a8a8a" stroke-width="1.15"/><circle cx="330.20" cy="960.56" r="1.8" fill="none" stroke="#8a8a8a" stroke-width="1.15"/><circle cx="330.20" cy="966.96" r="1.8" fill="none" stroke="#8a8a8a" stroke-width="1.15"/><path d="M341.60,947.14V938.24M339.90,938.24H343.30M339.90,947.14H343.30" stroke="#2a4cc8" stroke-width="0.9" fill="none"/><circle cx="341.60" cy="924.55" r="1.8" fill="none" stroke="#2a4cc8" stroke-width="1.15"/><circle cx="341.60" cy="933.35" r="1.8" fill="none" stroke="#2a4cc8" stroke-width="1.15"/><circle cx="339.30" cy="942.42" r="1.8" fill="none" stroke="#2a4cc8" stroke-width="1.15"/><circle cx="343.90" cy="945.09" r="1.8" fill="none" stroke="#2a4cc8" stroke-width="1.15"/><circle cx="341.60" cy="950.43" r="1.8" fill="none" stroke="#2a4cc8" stroke-width="1.15"/><circle cx="341.60" cy="953.63" r="1.8" fill="none" stroke="#2a4cc8" stroke-width="1.15"/><path d="M353.00,954.34V946.94M351.30,946.94H354.70M351.30,954.34H354.70" stroke="#e6b02a" stroke-width="0.9" fill="none"/><circle cx="350.70" cy="937.09" r="1.8" fill="none" stroke="#e6b02a" stroke-width="1.15"/><circle cx="355.30" cy="939.76" r="1.8" fill="none" stroke="#e6b02a" stroke-width="1.15"/><circle cx="350.70" cy="948.83" r="1.8" fill="none" stroke="#e6b02a" stroke-width="1.15"/><circle cx="355.30" cy="950.96" r="1.8" fill="none" stroke="#e6b02a" stroke-width="1.15"/><circle cx="350.70" cy="957.36" r="1.8" fill="none" stroke="#e6b02a" stroke-width="1.15"/><circle cx="355.30" cy="959.50" r="1.8" fill="none" stroke="#e6b02a" stroke-width="1.15"/><rect x="360.30" y="972.05" width="8.20" height="3.7" rx="1.85" fill="#e2302c"/><rect x="380.57" y="967.60" width="6.67" height="6.30" fill="#fff" stroke="#2a2a2a" stroke-width="1.55"/><rect x="391.97" y="936.02" width="6.67" height="37.88" fill="#fff" stroke="#2a2a2a" stroke-width="1.55"/><rect x="403.37" y="935.38" width="6.67" height="38.52" fill="#fff" stroke="#2a2a2a" stroke-width="1.55"/><path d="M383.90,971.38V963.83M382.20,963.83H385.60M382.20,971.38H385.60" stroke="#8a8a8a" stroke-width="0.9" fill="none"/><rect x="379.80" y="972.05" width="8.20" height="3.7" rx="1.85" fill="#8a8a8a"/><circle cx="383.90" cy="949.09" r="1.8" fill="none" stroke="#8a8a8a" stroke-width="1.15"/><circle cx="383.90" cy="956.29" r="1.8" fill="none" stroke="#8a8a8a" stroke-width="1.15"/><circle cx="381.60" cy="961.63" r="1.8" fill="none" stroke="#8a8a8a" stroke-width="1.15"/><circle cx="386.20" cy="964.30" r="1.8" fill="none" stroke="#8a8a8a" stroke-width="1.15"/><circle cx="383.90" cy="971.23" r="1.8" fill="none" stroke="#8a8a8a" stroke-width="1.15"/><path d="M395.30,943.27V928.78M393.60,928.78H397.00M393.60,943.27H397.00" stroke="#2a4cc8" stroke-width="0.9" fill="none"/><circle cx="395.30" cy="909.35" r="1.8" fill="none" stroke="#2a4cc8" stroke-width="1.15"/><circle cx="395.30" cy="925.88" r="1.8" fill="none" stroke="#2a4cc8" stroke-width="1.15"/><circle cx="395.30" cy="932.29" r="1.8" fill="none" stroke="#2a4cc8" stroke-width="1.15"/><circle cx="395.30" cy="936.55" r="1.8" fill="none" stroke="#2a4cc8" stroke-width="1.15"/><circle cx="395.30" cy="946.96" r="1.8" fill="none" stroke="#2a4cc8" stroke-width="1.15"/><circle cx="395.30" cy="961.10" r="1.8" fill="none" stroke="#2a4cc8" stroke-width="1.15"/><path d="M406.70,940.57V930.19M405.00,930.19H408.40M405.00,940.57H408.40" stroke="#e6b02a" stroke-width="0.9" fill="none"/><circle cx="406.70" cy="912.55" r="1.8" fill="none" stroke="#e6b02a" stroke-width="1.15"/><circle cx="406.70" cy="928.55" r="1.8" fill="none" stroke="#e6b02a" stroke-width="1.15"/><circle cx="406.70" cy="932.82" r="1.8" fill="none" stroke="#e6b02a" stroke-width="1.15"/><circle cx="406.70" cy="939.76" r="1.8" fill="none" stroke="#e6b02a" stroke-width="1.15"/><circle cx="404.40" cy="945.62" r="1.8" fill="none" stroke="#e6b02a" stroke-width="1.15"/><circle cx="409.00" cy="946.16" r="1.8" fill="none" stroke="#e6b02a" stroke-width="1.15"/><rect x="414.00" y="972.05" width="8.20" height="3.7" rx="1.85" fill="#e2302c"/><path d="M234.20,880.20H257.00" stroke="#9c9c9c" stroke-width="0.75"/><text x="246.20" y="879.50" font-size="7.8" font-weight="bold" text-anchor="middle" fill="#111" letter-spacing="1.2" stroke="#111" stroke-width="0.35">****</text><path d="M222.80,888.40H245.60" stroke="#9c9c9c" stroke-width="0.75"/><text x="234.80" y="887.70" font-size="7.8" font-weight="bold" text-anchor="middle" fill="#111" letter-spacing="1.2" stroke="#111" stroke-width="0.35">*</text><path d="M222.80,897.80H234.20" stroke="#9c9c9c" stroke-width="0.75"/><text x="229.10" y="897.10" font-size="7.8" font-weight="bold" text-anchor="middle" fill="#111" letter-spacing="1.2" stroke="#111" stroke-width="0.35">****</text><path d="M245.60,930.50H257.00" stroke="#9c9c9c" stroke-width="0.75"/><text x="251.90" y="929.80" font-size="7.8" font-weight="bold" text-anchor="middle" fill="#111" letter-spacing="1.2" stroke="#111" stroke-width="0.35">**</text><path d="M287.70,861.50H310.50" stroke="#9c9c9c" stroke-width="0.75"/><text x="299.70" y="860.80" font-size="7.8" font-weight="bold" text-anchor="middle" fill="#111" letter-spacing="1.2" stroke="#111" stroke-width="0.35">****</text><path d="M276.30,869.70H299.10" stroke="#9c9c9c" stroke-width="0.75"/><text x="288.30" y="869.00" font-size="7.8" font-weight="bold" text-anchor="middle" fill="#111" letter-spacing="1.2" stroke="#111" stroke-width="0.35">****</text><path d="M287.70,876.70H299.10" stroke="#9c9c9c" stroke-width="0.75"/><text x="294.00" y="876.00" font-size="7.8" font-weight="bold" text-anchor="middle" fill="#111" letter-spacing="1.2" stroke="#111" stroke-width="0.35">*</text><path d="M276.30,886.10H287.70" stroke="#9c9c9c" stroke-width="0.75"/><text x="282.60" y="885.40" font-size="7.8" font-weight="bold" text-anchor="middle" fill="#111" letter-spacing="1.2" stroke="#111" stroke-width="0.35">****</text><path d="M299.10,911.10H310.50" stroke="#9c9c9c" stroke-width="0.75"/><text x="305.40" y="910.40" font-size="7.8" font-weight="bold" text-anchor="middle" fill="#111" letter-spacing="1.2" stroke="#111" stroke-width="0.35">****</text><path d="M330.20,907.10H341.60" stroke="#9c9c9c" stroke-width="0.75"/><text x="336.50" y="906.40" font-size="7.8" font-weight="bold" text-anchor="middle" fill="#111" letter-spacing="1.2" stroke="#111" stroke-width="0.35">**</text><path d="M341.60,917.60H364.40" stroke="#9c9c9c" stroke-width="0.75"/><text x="353.60" y="916.90" font-size="7.8" font-weight="bold" text-anchor="middle" fill="#111" letter-spacing="1.2" stroke="#111" stroke-width="0.35">****</text><path d="M353.00,929.80H364.40" stroke="#9c9c9c" stroke-width="0.75"/><text x="359.30" y="929.10" font-size="7.8" font-weight="bold" text-anchor="middle" fill="#111" letter-spacing="1.2" stroke="#111" stroke-width="0.35">**</text><path d="M395.30,886.50H418.10" stroke="#9c9c9c" stroke-width="0.75"/><text x="407.30" y="885.80" font-size="7.8" font-weight="bold" text-anchor="middle" fill="#111" letter-spacing="1.2" stroke="#111" stroke-width="0.35">****</text><path d="M383.90,894.30H406.70" stroke="#9c9c9c" stroke-width="0.75"/><text x="395.90" y="893.60" font-size="7.8" font-weight="bold" text-anchor="middle" fill="#111" letter-spacing="1.2" stroke="#111" stroke-width="0.35">****</text><path d="M383.90,902.40H395.30" stroke="#9c9c9c" stroke-width="0.75"/><text x="390.20" y="901.70" font-size="7.8" font-weight="bold" text-anchor="middle" fill="#111" letter-spacing="1.2" stroke="#111" stroke-width="0.35">****</text><path d="M406.70,905.90H418.10" stroke="#9c9c9c" stroke-width="0.75"/><text x="413.00" y="905.20" font-size="7.8" font-weight="bold" text-anchor="middle" fill="#111" letter-spacing="1.2" stroke="#111" stroke-width="0.35">****</text><text x="320.50" y="814.30" font-size="10.6" font-weight="bold" text-anchor="middle" fill="#111" >NS5</text><path d="M472.70,866.30V973.90H683.60" stroke="#111" stroke-width="1.95" fill="none"/><path d="M467.90,973.90H472.70" stroke="#111" stroke-width="1.75"/><text x="466.80" y="976.66" font-size="7.9" font-weight="bold" text-anchor="end" fill="#111" stroke="#111" stroke-width="0.2">0</text><path d="M467.90,947.23H472.70" stroke="#111" stroke-width="1.75"/><text x="466.80" y="949.98" font-size="7.9" font-weight="bold" text-anchor="end" fill="#111" stroke="#111" stroke-width="0.2">500</text><path d="M467.90,920.55H472.70" stroke="#111" stroke-width="1.75"/><text x="466.80" y="923.31" font-size="7.9" font-weight="bold" text-anchor="end" fill="#111" stroke="#111" stroke-width="0.2">1000</text><path d="M467.90,893.88H472.70" stroke="#111" stroke-width="1.75"/><text x="466.80" y="896.63" font-size="7.9" font-weight="bold" text-anchor="end" fill="#111" stroke="#111" stroke-width="0.2">1500</text><path d="M467.90,867.20H472.70" stroke="#111" stroke-width="1.75"/><text x="466.80" y="869.96" font-size="7.9" font-weight="bold" text-anchor="end" fill="#111" stroke="#111" stroke-width="0.2">2000</text><path d="M497.20,973.90V978.90" stroke="#111" stroke-width="1.75"/><text x="497.20" y="986.90" font-size="8.4" font-weight="bold" text-anchor="middle" fill="#111" >P1</text><path d="M551.00,973.90V978.90" stroke="#111" stroke-width="1.75"/><text x="551.00" y="986.90" font-size="8.4" font-weight="bold" text-anchor="middle" fill="#111" >P2</text><path d="M604.50,973.90V978.90" stroke="#111" stroke-width="1.75"/><text x="604.50" y="986.90" font-size="8.4" font-weight="bold" text-anchor="middle" fill="#111" >P5</text><path d="M657.80,973.90V978.90" stroke="#111" stroke-width="1.75"/><text x="657.80" y="986.90" font-size="8.4" font-weight="bold" text-anchor="middle" fill="#111" >P6</text><rect x="476.59" y="964.83" width="6.73" height="9.07" fill="#fff" stroke="#2a2a2a" stroke-width="1.55"/><rect x="488.09" y="919.48" width="6.73" height="54.42" fill="#fff" stroke="#2a2a2a" stroke-width="1.55"/><rect x="499.59" y="919.48" width="6.73" height="54.42" fill="#fff" stroke="#2a2a2a" stroke-width="1.55"/><path d="M479.95,969.06V960.60M478.25,960.60H481.65M478.25,969.06H481.65" stroke="#8a8a8a" stroke-width="0.9" fill="none"/><rect x="475.85" y="972.05" width="8.20" height="3.7" rx="1.85" fill="#8a8a8a"/><circle cx="479.95" cy="945.62" r="1.8" fill="none" stroke="#8a8a8a" stroke-width="1.15"/><circle cx="479.95" cy="950.43" r="1.8" fill="none" stroke="#8a8a8a" stroke-width="1.15"/><circle cx="477.65" cy="957.36" r="1.8" fill="none" stroke="#8a8a8a" stroke-width="1.15"/><circle cx="482.25" cy="959.50" r="1.8" fill="none" stroke="#8a8a8a" stroke-width="1.15"/><circle cx="479.95" cy="968.56" r="1.8" fill="none" stroke="#8a8a8a" stroke-width="1.15"/><path d="M491.45,933.22V905.75M489.75,905.75H493.15M489.75,933.22H493.15" stroke="#2a4cc8" stroke-width="0.9" fill="none"/><circle cx="491.45" cy="876.54" r="1.8" fill="none" stroke="#2a4cc8" stroke-width="1.15"/><circle cx="491.45" cy="886.94" r="1.8" fill="none" stroke="#2a4cc8" stroke-width="1.15"/><circle cx="491.45" cy="907.75" r="1.8" fill="none" stroke="#2a4cc8" stroke-width="1.15"/><circle cx="489.15" cy="941.89" r="1.8" fill="none" stroke="#2a4cc8" stroke-width="1.15"/><circle cx="493.75" cy="944.82" r="1.8" fill="none" stroke="#2a4cc8" stroke-width="1.15"/><circle cx="491.45" cy="957.89" r="1.8" fill="none" stroke="#2a4cc8" stroke-width="1.15"/><path d="M502.95,927.30V911.67M501.25,911.67H504.65M501.25,927.30H504.65" stroke="#e6b02a" stroke-width="0.9" fill="none"/><circle cx="502.95" cy="886.94" r="1.8" fill="none" stroke="#e6b02a" stroke-width="1.15"/><circle cx="502.95" cy="900.28" r="1.8" fill="none" stroke="#e6b02a" stroke-width="1.15"/><circle cx="502.95" cy="916.82" r="1.8" fill="none" stroke="#e6b02a" stroke-width="1.15"/><circle cx="502.95" cy="922.68" r="1.8" fill="none" stroke="#e6b02a" stroke-width="1.15"/><circle cx="502.95" cy="927.49" r="1.8" fill="none" stroke="#e6b02a" stroke-width="1.15"/><circle cx="502.95" cy="932.29" r="1.8" fill="none" stroke="#e6b02a" stroke-width="1.15"/><circle cx="502.95" cy="949.36" r="1.8" fill="none" stroke="#e6b02a" stroke-width="1.15"/><rect x="510.35" y="972.05" width="8.20" height="3.7" rx="1.85" fill="#e2302c"/><rect x="530.39" y="956.45" width="6.73" height="17.45" fill="#fff" stroke="#2a2a2a" stroke-width="1.55"/><rect x="541.89" y="922.95" width="6.73" height="50.95" fill="#fff" stroke="#2a2a2a" stroke-width="1.55"/><rect x="553.39" y="928.55" width="6.73" height="45.35" fill="#fff" stroke="#2a2a2a" stroke-width="1.55"/><path d="M533.75,963.43V949.48M532.05,949.48H535.45M532.05,963.43H535.45" stroke="#8a8a8a" stroke-width="0.9" fill="none"/><rect x="529.65" y="972.05" width="8.20" height="3.7" rx="1.85" fill="#8a8a8a"/><circle cx="531.45" cy="929.62" r="1.8" fill="none" stroke="#8a8a8a" stroke-width="1.15"/><circle cx="536.05" cy="931.22" r="1.8" fill="none" stroke="#8a8a8a" stroke-width="1.15"/><circle cx="533.75" cy="939.76" r="1.8" fill="none" stroke="#8a8a8a" stroke-width="1.15"/><circle cx="533.75" cy="944.02" r="1.8" fill="none" stroke="#8a8a8a" stroke-width="1.15"/><circle cx="533.75" cy="950.43" r="1.8" fill="none" stroke="#8a8a8a" stroke-width="1.15"/><path d="M545.25,927.07V918.83M543.55,918.83H546.95M543.55,927.07H546.95" stroke="#2a4cc8" stroke-width="0.9" fill="none"/><circle cx="545.25" cy="909.35" r="1.8" fill="none" stroke="#2a4cc8" stroke-width="1.15"/><circle cx="542.95" cy="918.42" r="1.8" fill="none" stroke="#2a4cc8" stroke-width="1.15"/><circle cx="547.55" cy="921.08" r="1.8" fill="none" stroke="#2a4cc8" stroke-width="1.15"/><circle cx="542.95" cy="924.82" r="1.8" fill="none" stroke="#2a4cc8" stroke-width="1.15"/><circle cx="547.55" cy="926.95" r="1.8" fill="none" stroke="#2a4cc8" stroke-width="1.15"/><circle cx="545.25" cy="939.76" r="1.8" fill="none" stroke="#2a4cc8" stroke-width="1.15"/><path d="M556.75,932.12V924.99M555.05,924.99H558.45M555.05,932.12H558.45" stroke="#e6b02a" stroke-width="0.9" fill="none"/><circle cx="556.75" cy="915.75" r="1.8" fill="none" stroke="#e6b02a" stroke-width="1.15"/><circle cx="556.75" cy="918.95" r="1.8" fill="none" stroke="#e6b02a" stroke-width="1.15"/><circle cx="556.75" cy="922.68" r="1.8" fill="none" stroke="#e6b02a" stroke-width="1.15"/><circle cx="556.75" cy="925.88" r="1.8" fill="none" stroke="#e6b02a" stroke-width="1.15"/><circle cx="554.45" cy="931.22" r="1.8" fill="none" stroke="#e6b02a" stroke-width="1.15"/><circle cx="559.05" cy="933.89" r="1.8" fill="none" stroke="#e6b02a" stroke-width="1.15"/><circle cx="556.75" cy="939.76" r="1.8" fill="none" stroke="#e6b02a" stroke-width="1.15"/><circle cx="556.75" cy="944.56" r="1.8" fill="none" stroke="#e6b02a" stroke-width="1.15"/><rect x="564.15" y="972.05" width="8.20" height="3.7" rx="1.85" fill="#e2302c"/><rect x="583.89" y="968.89" width="6.73" height="5.01" fill="#fff" stroke="#2a2a2a" stroke-width="1.55"/><rect x="595.39" y="893.61" width="6.73" height="80.29" fill="#fff" stroke="#2a2a2a" stroke-width="1.55"/><rect x="606.89" y="895.64" width="6.73" height="78.26" fill="#fff" stroke="#2a2a2a" stroke-width="1.55"/><path d="M587.25,971.46V966.31M585.55,966.31H588.95M585.55,971.46H588.95" stroke="#8a8a8a" stroke-width="0.9" fill="none"/><rect x="583.15" y="972.05" width="8.20" height="3.7" rx="1.85" fill="#8a8a8a"/><circle cx="584.95" cy="956.83" r="1.8" fill="none" stroke="#8a8a8a" stroke-width="1.15"/><circle cx="589.55" cy="958.96" r="1.8" fill="none" stroke="#8a8a8a" stroke-width="1.15"/><circle cx="584.95" cy="962.16" r="1.8" fill="none" stroke="#8a8a8a" stroke-width="1.15"/><circle cx="589.55" cy="963.76" r="1.8" fill="none" stroke="#8a8a8a" stroke-width="1.15"/><circle cx="587.25" cy="968.56" r="1.8" fill="none" stroke="#8a8a8a" stroke-width="1.15"/><path d="M598.75,896.82V890.39M597.05,890.39H600.45M597.05,896.82H600.45" stroke="#2a4cc8" stroke-width="0.9" fill="none"/><circle cx="596.45" cy="881.60" r="1.8" fill="none" stroke="#2a4cc8" stroke-width="1.15"/><circle cx="601.05" cy="884.27" r="1.8" fill="none" stroke="#2a4cc8" stroke-width="1.15"/><circle cx="596.45" cy="893.88" r="1.8" fill="none" stroke="#2a4cc8" stroke-width="1.15"/><circle cx="601.05" cy="896.54" r="1.8" fill="none" stroke="#2a4cc8" stroke-width="1.15"/><circle cx="596.45" cy="899.21" r="1.8" fill="none" stroke="#2a4cc8" stroke-width="1.15"/><circle cx="601.05" cy="900.28" r="1.8" fill="none" stroke="#2a4cc8" stroke-width="1.15"/><path d="M610.25,902.91V888.36M608.55,888.36H611.95M608.55,902.91H611.95" stroke="#e6b02a" stroke-width="0.9" fill="none"/><circle cx="610.25" cy="870.40" r="1.8" fill="none" stroke="#e6b02a" stroke-width="1.15"/><circle cx="610.25" cy="888.01" r="1.8" fill="none" stroke="#e6b02a" stroke-width="1.15"/><circle cx="607.95" cy="893.88" r="1.8" fill="none" stroke="#e6b02a" stroke-width="1.15"/><circle cx="612.55" cy="896.54" r="1.8" fill="none" stroke="#e6b02a" stroke-width="1.15"/><circle cx="610.25" cy="901.88" r="1.8" fill="none" stroke="#e6b02a" stroke-width="1.15"/><circle cx="610.25" cy="924.82" r="1.8" fill="none" stroke="#e6b02a" stroke-width="1.15"/><rect x="617.65" y="972.05" width="8.20" height="3.7" rx="1.85" fill="#e2302c"/><rect x="637.19" y="961.90" width="6.73" height="12.00" fill="#fff" stroke="#2a2a2a" stroke-width="1.55"/><rect x="648.69" y="935.75" width="6.73" height="38.15" fill="#fff" stroke="#2a2a2a" stroke-width="1.55"/><rect x="660.19" y="937.78" width="6.73" height="36.12" fill="#fff" stroke="#2a2a2a" stroke-width="1.55"/><path d="M640.55,968.78V955.01M638.85,955.01H642.25M638.85,968.78H642.25" stroke="#8a8a8a" stroke-width="0.9" fill="none"/><rect x="636.45" y="972.05" width="8.20" height="3.7" rx="1.85" fill="#8a8a8a"/><circle cx="640.55" cy="925.35" r="1.8" fill="none" stroke="#8a8a8a" stroke-width="1.15"/><circle cx="638.25" cy="950.43" r="1.8" fill="none" stroke="#8a8a8a" stroke-width="1.15"/><circle cx="642.85" cy="952.56" r="1.8" fill="none" stroke="#8a8a8a" stroke-width="1.15"/><circle cx="640.55" cy="956.83" r="1.8" fill="none" stroke="#8a8a8a" stroke-width="1.15"/><circle cx="640.55" cy="967.50" r="1.8" fill="none" stroke="#8a8a8a" stroke-width="1.15"/><path d="M652.05,941.92V929.59M650.35,929.59H653.75M650.35,941.92H653.75" stroke="#2a4cc8" stroke-width="0.9" fill="none"/><circle cx="652.05" cy="905.61" r="1.8" fill="none" stroke="#2a4cc8" stroke-width="1.15"/><circle cx="649.75" cy="935.49" r="1.8" fill="none" stroke="#2a4cc8" stroke-width="1.15"/><circle cx="654.35" cy="936.55" r="1.8" fill="none" stroke="#2a4cc8" stroke-width="1.15"/><circle cx="652.05" cy="938.69" r="1.8" fill="none" stroke="#2a4cc8" stroke-width="1.15"/><circle cx="652.05" cy="942.42" r="1.8" fill="none" stroke="#2a4cc8" stroke-width="1.15"/><circle cx="652.05" cy="949.36" r="1.8" fill="none" stroke="#2a4cc8" stroke-width="1.15"/><path d="M663.55,942.04V933.52M661.85,933.52H665.25M661.85,942.04H665.25" stroke="#e6b02a" stroke-width="0.9" fill="none"/><circle cx="663.55" cy="921.35" r="1.8" fill="none" stroke="#e6b02a" stroke-width="1.15"/><circle cx="661.25" cy="924.82" r="1.8" fill="none" stroke="#e6b02a" stroke-width="1.15"/><circle cx="665.85" cy="925.35" r="1.8" fill="none" stroke="#e6b02a" stroke-width="1.15"/><circle cx="663.55" cy="932.29" r="1.8" fill="none" stroke="#e6b02a" stroke-width="1.15"/><circle cx="663.55" cy="939.76" r="1.8" fill="none" stroke="#e6b02a" stroke-width="1.15"/><circle cx="663.55" cy="944.56" r="1.8" fill="none" stroke="#e6b02a" stroke-width="1.15"/><circle cx="663.55" cy="951.23" r="1.8" fill="none" stroke="#e6b02a" stroke-width="1.15"/><rect x="670.95" y="972.05" width="8.20" height="3.7" rx="1.85" fill="#e2302c"/><path d="M491.45,853.40H514.45" stroke="#9c9c9c" stroke-width="0.75"/><text x="503.55" y="852.70" font-size="7.8" font-weight="bold" text-anchor="middle" fill="#111" letter-spacing="1.2" stroke="#111" stroke-width="0.35">****</text><path d="M479.95,861.50H502.95" stroke="#9c9c9c" stroke-width="0.75"/><text x="492.05" y="860.80" font-size="7.8" font-weight="bold" text-anchor="middle" fill="#111" letter-spacing="1.2" stroke="#111" stroke-width="0.35">****</text><path d="M479.95,870.40H491.45" stroke="#9c9c9c" stroke-width="0.75"/><text x="486.30" y="869.70" font-size="7.8" font-weight="bold" text-anchor="middle" fill="#111" letter-spacing="1.2" stroke="#111" stroke-width="0.35">****</text><path d="M502.95,881.40H514.45" stroke="#9c9c9c" stroke-width="0.75"/><text x="509.30" y="880.70" font-size="7.8" font-weight="bold" text-anchor="middle" fill="#111" letter-spacing="1.2" stroke="#111" stroke-width="0.35">****</text><path d="M545.25,885.60H568.25" stroke="#9c9c9c" stroke-width="0.75"/><text x="557.35" y="884.90" font-size="7.8" font-weight="bold" text-anchor="middle" fill="#111" letter-spacing="1.2" stroke="#111" stroke-width="0.35">****</text><path d="M533.75,893.10H556.75" stroke="#9c9c9c" stroke-width="0.75"/><text x="545.85" y="892.40" font-size="7.8" font-weight="bold" text-anchor="middle" fill="#111" letter-spacing="1.2" stroke="#111" stroke-width="0.35">***</text><path d="M533.75,901.30H545.25" stroke="#9c9c9c" stroke-width="0.75"/><text x="540.10" y="900.60" font-size="7.8" font-weight="bold" text-anchor="middle" fill="#111" letter-spacing="1.2" stroke="#111" stroke-width="0.35">****</text><path d="M556.75,909.90H568.25" stroke="#9c9c9c" stroke-width="0.75"/><text x="563.10" y="909.20" font-size="7.8" font-weight="bold" text-anchor="middle" fill="#111" letter-spacing="1.2" stroke="#111" stroke-width="0.35">****</text><path d="M587.25,846.80H610.25" stroke="#9c9c9c" stroke-width="0.75"/><text x="599.35" y="846.10" font-size="7.8" font-weight="bold" text-anchor="middle" fill="#111" letter-spacing="1.2" stroke="#111" stroke-width="0.35">****</text><path d="M598.75,855.00H621.75" stroke="#9c9c9c" stroke-width="0.75"/><text x="610.85" y="854.30" font-size="7.8" font-weight="bold" text-anchor="middle" fill="#111" letter-spacing="1.2" stroke="#111" stroke-width="0.35">****</text><path d="M610.25,863.40H621.75" stroke="#9c9c9c" stroke-width="0.75"/><text x="616.60" y="862.70" font-size="7.8" font-weight="bold" text-anchor="middle" fill="#111" letter-spacing="1.2" stroke="#111" stroke-width="0.35">****</text><path d="M587.25,875.80H598.75" stroke="#9c9c9c" stroke-width="0.75"/><text x="593.60" y="875.10" font-size="7.8" font-weight="bold" text-anchor="middle" fill="#111" letter-spacing="1.2" stroke="#111" stroke-width="0.35">****</text><path d="M652.05,883.40H675.05" stroke="#9c9c9c" stroke-width="0.75"/><text x="664.15" y="882.70" font-size="7.8" font-weight="bold" text-anchor="middle" fill="#111" letter-spacing="1.2" stroke="#111" stroke-width="0.35">****</text><path d="M640.55,891.50H663.55" stroke="#9c9c9c" stroke-width="0.75"/><text x="652.65" y="890.80" font-size="7.8" font-weight="bold" text-anchor="middle" fill="#111" letter-spacing="1.2" stroke="#111" stroke-width="0.35">**</text><path d="M640.55,899.90H652.05" stroke="#9c9c9c" stroke-width="0.75"/><text x="646.90" y="899.20" font-size="7.8" font-weight="bold" text-anchor="middle" fill="#111" letter-spacing="1.2" stroke="#111" stroke-width="0.35">**</text><path d="M663.55,914.50H675.05" stroke="#9c9c9c" stroke-width="0.75"/><text x="669.90" y="913.80" font-size="7.8" font-weight="bold" text-anchor="middle" fill="#111" letter-spacing="1.2" stroke="#111" stroke-width="0.35">****</text><text x="577.80" y="814.30" font-size="10.6" font-weight="bold" text-anchor="middle" fill="#111" >Env</text></g></svg>
</body></html>
